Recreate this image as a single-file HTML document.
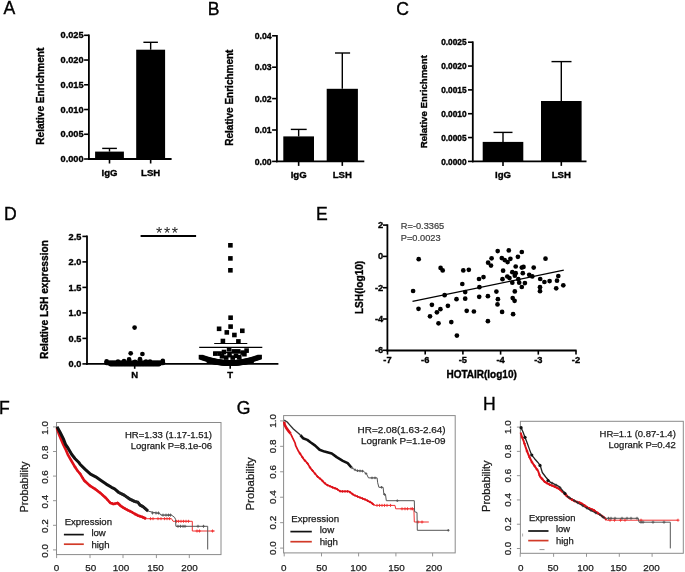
<!DOCTYPE html>
<html><head><meta charset="utf-8"><title>Figure</title>
<style>
html,body{margin:0;padding:0;background:#fff;}
body{width:685px;height:572px;overflow:hidden;}
svg{display:block;filter:blur(0.35px);}
text{font-family:"Liberation Sans", sans-serif;}
</style></head>
<body>
<svg width="685" height="572" viewBox="0 0 685 572" font-family="Liberation Sans, sans-serif">
<rect width="685" height="572" fill="#fff"/>
<text x="3.40" y="14.30" font-size="17.6" text-anchor="start" fill="#000" stroke="#000" stroke-width="0.35">A</text>
<text x="207.80" y="15.00" font-size="17.6" text-anchor="start" fill="#000" stroke="#000" stroke-width="0.35">B</text>
<text x="396.20" y="15.00" font-size="17.6" text-anchor="start" fill="#000" stroke="#000" stroke-width="0.35">C</text>
<text x="4.00" y="219.70" font-size="17.6" text-anchor="start" fill="#000" stroke="#000" stroke-width="0.35">D</text>
<text x="316.00" y="219.60" font-size="17.6" text-anchor="start" fill="#000" stroke="#000" stroke-width="0.35">E</text>
<text x="-1.00" y="413.70" font-size="17.6" text-anchor="start" fill="#000" stroke="#000" stroke-width="0.35">F</text>
<text x="236.80" y="414.00" font-size="17.6" text-anchor="start" fill="#000" stroke="#000" stroke-width="0.35">G</text>
<text x="483.00" y="409.70" font-size="17.6" text-anchor="start" fill="#000" stroke="#000" stroke-width="0.35">H</text>
<line x1="88.90" y1="34.50" x2="88.90" y2="159.90" stroke="#000" stroke-width="1.8"/>
<line x1="88.00" y1="159.00" x2="171.60" y2="159.00" stroke="#000" stroke-width="1.8"/>
<line x1="84.10" y1="159.00" x2="88.90" y2="159.00" stroke="#000" stroke-width="1.6"/>
<text x="83.60" y="162.10" font-size="9.2" font-weight="bold" stroke="#000" stroke-width="0.35" text-anchor="end" fill="#000">0.000</text>
<line x1="84.10" y1="134.26" x2="88.90" y2="134.26" stroke="#000" stroke-width="1.6"/>
<text x="83.60" y="137.36" font-size="9.2" font-weight="bold" stroke="#000" stroke-width="0.35" text-anchor="end" fill="#000">0.005</text>
<line x1="84.10" y1="109.52" x2="88.90" y2="109.52" stroke="#000" stroke-width="1.6"/>
<text x="83.60" y="112.62" font-size="9.2" font-weight="bold" stroke="#000" stroke-width="0.35" text-anchor="end" fill="#000">0.010</text>
<line x1="84.10" y1="84.78" x2="88.90" y2="84.78" stroke="#000" stroke-width="1.6"/>
<text x="83.60" y="87.88" font-size="9.2" font-weight="bold" stroke="#000" stroke-width="0.35" text-anchor="end" fill="#000">0.015</text>
<line x1="84.10" y1="60.04" x2="88.90" y2="60.04" stroke="#000" stroke-width="1.6"/>
<text x="83.60" y="63.14" font-size="9.2" font-weight="bold" stroke="#000" stroke-width="0.35" text-anchor="end" fill="#000">0.020</text>
<line x1="84.10" y1="35.30" x2="88.90" y2="35.30" stroke="#000" stroke-width="1.6"/>
<text x="83.60" y="38.40" font-size="9.2" font-weight="bold" stroke="#000" stroke-width="0.35" text-anchor="end" fill="#000">0.025</text>
<rect x="95.10" y="151.60" width="28.80" height="7.40" fill="#000"/>
<line x1="109.50" y1="148.40" x2="109.50" y2="151.60" stroke="#000" stroke-width="1.4"/>
<line x1="102.20" y1="148.40" x2="116.90" y2="148.40" stroke="#000" stroke-width="1.4"/>
<line x1="109.50" y1="159.00" x2="109.50" y2="163.50" stroke="#000" stroke-width="1.6"/>
<text x="109.50" y="175.60" font-size="9.6" font-weight="bold" stroke="#000" stroke-width="0.35" text-anchor="middle" fill="#000">IgG</text>
<rect x="136.20" y="49.70" width="28.90" height="109.30" fill="#000"/>
<line x1="150.65" y1="42.30" x2="150.65" y2="49.70" stroke="#000" stroke-width="1.4"/>
<line x1="143.40" y1="42.30" x2="157.90" y2="42.30" stroke="#000" stroke-width="1.4"/>
<line x1="150.65" y1="159.00" x2="150.65" y2="163.50" stroke="#000" stroke-width="1.6"/>
<text x="150.65" y="175.60" font-size="9.6" font-weight="bold" stroke="#000" stroke-width="0.35" text-anchor="middle" fill="#000">LSH</text>
<text x="44.40" y="96.20" font-size="10.1" font-weight="bold" stroke="#000" stroke-width="0.35" text-anchor="middle" fill="#000" transform="rotate(-90 44.40 96.20)">Relative Enrichment</text>
<line x1="276.90" y1="35.00" x2="276.90" y2="162.30" stroke="#000" stroke-width="1.8"/>
<line x1="276.00" y1="161.40" x2="364.30" y2="161.40" stroke="#000" stroke-width="1.8"/>
<line x1="272.10" y1="161.40" x2="276.90" y2="161.40" stroke="#000" stroke-width="1.6"/>
<text x="271.60" y="164.50" font-size="8.7" font-weight="bold" stroke="#000" stroke-width="0.35" text-anchor="end" fill="#000">0.00</text>
<line x1="272.10" y1="130.00" x2="276.90" y2="130.00" stroke="#000" stroke-width="1.6"/>
<text x="271.60" y="133.10" font-size="8.7" font-weight="bold" stroke="#000" stroke-width="0.35" text-anchor="end" fill="#000">0.01</text>
<line x1="272.10" y1="98.60" x2="276.90" y2="98.60" stroke="#000" stroke-width="1.6"/>
<text x="271.60" y="101.70" font-size="8.7" font-weight="bold" stroke="#000" stroke-width="0.35" text-anchor="end" fill="#000">0.02</text>
<line x1="272.10" y1="67.20" x2="276.90" y2="67.20" stroke="#000" stroke-width="1.6"/>
<text x="271.60" y="70.30" font-size="8.7" font-weight="bold" stroke="#000" stroke-width="0.35" text-anchor="end" fill="#000">0.03</text>
<line x1="272.10" y1="35.80" x2="276.90" y2="35.80" stroke="#000" stroke-width="1.6"/>
<text x="271.60" y="38.90" font-size="8.7" font-weight="bold" stroke="#000" stroke-width="0.35" text-anchor="end" fill="#000">0.04</text>
<rect x="283.30" y="136.40" width="30.70" height="25.00" fill="#000"/>
<line x1="298.65" y1="129.40" x2="298.65" y2="136.40" stroke="#000" stroke-width="1.4"/>
<line x1="290.80" y1="129.40" x2="306.70" y2="129.40" stroke="#000" stroke-width="1.4"/>
<line x1="298.65" y1="161.40" x2="298.65" y2="165.90" stroke="#000" stroke-width="1.6"/>
<text x="298.65" y="178.00" font-size="9.6" font-weight="bold" stroke="#000" stroke-width="0.35" text-anchor="middle" fill="#000">IgG</text>
<rect x="326.70" y="88.80" width="31.20" height="72.60" fill="#000"/>
<line x1="342.30" y1="53.00" x2="342.30" y2="88.80" stroke="#000" stroke-width="1.4"/>
<line x1="335.00" y1="53.00" x2="350.10" y2="53.00" stroke="#000" stroke-width="1.4"/>
<line x1="342.30" y1="161.40" x2="342.30" y2="165.90" stroke="#000" stroke-width="1.6"/>
<text x="342.30" y="178.00" font-size="9.6" font-weight="bold" stroke="#000" stroke-width="0.35" text-anchor="middle" fill="#000">LSH</text>
<text x="233.20" y="97.60" font-size="10" font-weight="bold" stroke="#000" stroke-width="0.35" text-anchor="middle" fill="#000" transform="rotate(-90 233.20 97.60)">Relative Enrichment</text>
<line x1="472.80" y1="41.40" x2="472.80" y2="162.30" stroke="#000" stroke-width="1.8"/>
<line x1="471.90" y1="161.40" x2="586.50" y2="161.40" stroke="#000" stroke-width="1.8"/>
<line x1="468.00" y1="161.40" x2="472.80" y2="161.40" stroke="#000" stroke-width="1.6"/>
<text x="466.60" y="164.50" font-size="8.3" font-weight="bold" stroke="#000" stroke-width="0.35" text-anchor="end" fill="#000">0.0000</text>
<line x1="468.00" y1="137.56" x2="472.80" y2="137.56" stroke="#000" stroke-width="1.6"/>
<text x="466.60" y="140.66" font-size="8.3" font-weight="bold" stroke="#000" stroke-width="0.35" text-anchor="end" fill="#000">0.0005</text>
<line x1="468.00" y1="113.72" x2="472.80" y2="113.72" stroke="#000" stroke-width="1.6"/>
<text x="466.60" y="116.82" font-size="8.3" font-weight="bold" stroke="#000" stroke-width="0.35" text-anchor="end" fill="#000">0.0010</text>
<line x1="468.00" y1="89.88" x2="472.80" y2="89.88" stroke="#000" stroke-width="1.6"/>
<text x="466.60" y="92.98" font-size="8.3" font-weight="bold" stroke="#000" stroke-width="0.35" text-anchor="end" fill="#000">0.0015</text>
<line x1="468.00" y1="66.04" x2="472.80" y2="66.04" stroke="#000" stroke-width="1.6"/>
<text x="466.60" y="69.14" font-size="8.3" font-weight="bold" stroke="#000" stroke-width="0.35" text-anchor="end" fill="#000">0.0020</text>
<line x1="468.00" y1="42.20" x2="472.80" y2="42.20" stroke="#000" stroke-width="1.6"/>
<text x="466.60" y="45.30" font-size="8.3" font-weight="bold" stroke="#000" stroke-width="0.35" text-anchor="end" fill="#000">0.0025</text>
<rect x="482.70" y="141.90" width="40.60" height="19.50" fill="#000"/>
<line x1="503.00" y1="132.40" x2="503.00" y2="141.90" stroke="#000" stroke-width="1.4"/>
<line x1="493.50" y1="132.40" x2="512.50" y2="132.40" stroke="#000" stroke-width="1.4"/>
<line x1="503.00" y1="161.40" x2="503.00" y2="165.90" stroke="#000" stroke-width="1.6"/>
<text x="503.00" y="177.60" font-size="9.6" font-weight="bold" stroke="#000" stroke-width="0.35" text-anchor="middle" fill="#000">IgG</text>
<rect x="541.00" y="101.00" width="40.60" height="60.40" fill="#000"/>
<line x1="561.30" y1="61.60" x2="561.30" y2="101.00" stroke="#000" stroke-width="1.4"/>
<line x1="551.50" y1="61.60" x2="571.50" y2="61.60" stroke="#000" stroke-width="1.4"/>
<line x1="561.30" y1="161.40" x2="561.30" y2="165.90" stroke="#000" stroke-width="1.6"/>
<text x="561.30" y="177.60" font-size="9.6" font-weight="bold" stroke="#000" stroke-width="0.35" text-anchor="middle" fill="#000">LSH</text>
<text x="427.40" y="101.70" font-size="9.7" font-weight="bold" stroke="#000" stroke-width="0.35" text-anchor="middle" fill="#000" transform="rotate(-90 427.40 101.70)">Relative Enrichment</text>
<line x1="87.00" y1="235.60" x2="87.00" y2="364.80" stroke="#000" stroke-width="1.8"/>
<line x1="86.10" y1="363.90" x2="278.40" y2="363.90" stroke="#000" stroke-width="1.8"/>
<line x1="82.40" y1="363.90" x2="87.00" y2="363.90" stroke="#000" stroke-width="1.6"/>
<text x="81.40" y="367.10" font-size="9.2" font-weight="bold" stroke="#000" stroke-width="0.35" text-anchor="end" fill="#000">0.0</text>
<line x1="82.40" y1="338.40" x2="87.00" y2="338.40" stroke="#000" stroke-width="1.6"/>
<text x="81.40" y="341.60" font-size="9.2" font-weight="bold" stroke="#000" stroke-width="0.35" text-anchor="end" fill="#000">0.5</text>
<line x1="82.40" y1="312.90" x2="87.00" y2="312.90" stroke="#000" stroke-width="1.6"/>
<text x="81.40" y="316.10" font-size="9.2" font-weight="bold" stroke="#000" stroke-width="0.35" text-anchor="end" fill="#000">1.0</text>
<line x1="82.40" y1="287.40" x2="87.00" y2="287.40" stroke="#000" stroke-width="1.6"/>
<text x="81.40" y="290.60" font-size="9.2" font-weight="bold" stroke="#000" stroke-width="0.35" text-anchor="end" fill="#000">1.5</text>
<line x1="82.40" y1="261.90" x2="87.00" y2="261.90" stroke="#000" stroke-width="1.6"/>
<text x="81.40" y="265.10" font-size="9.2" font-weight="bold" stroke="#000" stroke-width="0.35" text-anchor="end" fill="#000">2.0</text>
<line x1="82.40" y1="236.40" x2="87.00" y2="236.40" stroke="#000" stroke-width="1.6"/>
<text x="81.40" y="239.60" font-size="9.2" font-weight="bold" stroke="#000" stroke-width="0.35" text-anchor="end" fill="#000">2.5</text>
<line x1="134.70" y1="363.90" x2="134.70" y2="368.80" stroke="#000" stroke-width="1.6"/>
<line x1="230.20" y1="363.90" x2="230.20" y2="368.80" stroke="#000" stroke-width="1.6"/>
<text x="134.70" y="377.70" font-size="9.5" font-weight="bold" stroke="#000" stroke-width="0.35" text-anchor="middle" fill="#000">N</text>
<text x="230.20" y="377.70" font-size="9.5" font-weight="bold" stroke="#000" stroke-width="0.35" text-anchor="middle" fill="#000">T</text>
<text x="47.90" y="299.50" font-size="10.2" font-weight="bold" stroke="#000" stroke-width="0.35" text-anchor="middle" fill="#000" transform="rotate(-90 47.90 299.50)">Relative LSH expression</text>
<line x1="140.60" y1="236.00" x2="196.10" y2="236.00" stroke="#000" stroke-width="1.8"/>
<text x="159.00" y="238.90" font-size="16" text-anchor="middle" fill="#222">*</text>
<text x="167.10" y="238.90" font-size="16" text-anchor="middle" fill="#222">*</text>
<text x="174.90" y="238.90" font-size="16" text-anchor="middle" fill="#222">*</text>
<circle cx="134.60" cy="327.60" r="2.35" fill="#000"/>
<circle cx="130.70" cy="353.30" r="2.35" fill="#000"/>
<circle cx="142.40" cy="354.00" r="2.35" fill="#000"/>
<circle cx="106.50" cy="362.90" r="2.35" fill="#000"/>
<circle cx="107.46" cy="362.90" r="2.35" fill="#000"/>
<circle cx="108.42" cy="362.90" r="2.35" fill="#000"/>
<circle cx="109.37" cy="362.90" r="2.35" fill="#000"/>
<circle cx="110.33" cy="362.90" r="2.35" fill="#000"/>
<circle cx="110.33" cy="364.10" r="2.35" fill="#000"/>
<circle cx="111.29" cy="362.90" r="2.35" fill="#000"/>
<circle cx="111.29" cy="364.10" r="2.35" fill="#000"/>
<circle cx="112.25" cy="362.90" r="2.35" fill="#000"/>
<circle cx="112.25" cy="364.10" r="2.35" fill="#000"/>
<circle cx="113.20" cy="362.90" r="2.35" fill="#000"/>
<circle cx="113.20" cy="364.10" r="2.35" fill="#000"/>
<circle cx="114.16" cy="362.90" r="2.35" fill="#000"/>
<circle cx="114.16" cy="364.10" r="2.35" fill="#000"/>
<circle cx="115.12" cy="362.90" r="2.35" fill="#000"/>
<circle cx="115.12" cy="364.10" r="2.35" fill="#000"/>
<circle cx="116.08" cy="362.90" r="2.35" fill="#000"/>
<circle cx="116.08" cy="364.10" r="2.35" fill="#000"/>
<circle cx="117.03" cy="362.90" r="2.35" fill="#000"/>
<circle cx="117.03" cy="364.10" r="2.35" fill="#000"/>
<circle cx="117.99" cy="362.90" r="2.35" fill="#000"/>
<circle cx="117.99" cy="364.10" r="2.35" fill="#000"/>
<circle cx="118.95" cy="362.90" r="2.35" fill="#000"/>
<circle cx="118.95" cy="364.10" r="2.35" fill="#000"/>
<circle cx="119.91" cy="362.90" r="2.35" fill="#000"/>
<circle cx="119.91" cy="364.10" r="2.35" fill="#000"/>
<circle cx="120.86" cy="362.90" r="2.35" fill="#000"/>
<circle cx="120.86" cy="364.10" r="2.35" fill="#000"/>
<circle cx="121.82" cy="362.90" r="2.35" fill="#000"/>
<circle cx="121.82" cy="364.10" r="2.35" fill="#000"/>
<circle cx="122.78" cy="362.90" r="2.35" fill="#000"/>
<circle cx="122.78" cy="364.10" r="2.35" fill="#000"/>
<circle cx="123.74" cy="362.90" r="2.35" fill="#000"/>
<circle cx="123.74" cy="364.10" r="2.35" fill="#000"/>
<circle cx="124.69" cy="362.90" r="2.35" fill="#000"/>
<circle cx="124.69" cy="364.10" r="2.35" fill="#000"/>
<circle cx="125.65" cy="362.90" r="2.35" fill="#000"/>
<circle cx="125.65" cy="364.10" r="2.35" fill="#000"/>
<circle cx="126.61" cy="362.90" r="2.35" fill="#000"/>
<circle cx="126.61" cy="364.10" r="2.35" fill="#000"/>
<circle cx="127.57" cy="362.90" r="2.35" fill="#000"/>
<circle cx="127.57" cy="364.10" r="2.35" fill="#000"/>
<circle cx="128.53" cy="362.90" r="2.35" fill="#000"/>
<circle cx="128.53" cy="364.10" r="2.35" fill="#000"/>
<circle cx="129.48" cy="362.90" r="2.35" fill="#000"/>
<circle cx="129.48" cy="364.10" r="2.35" fill="#000"/>
<circle cx="130.44" cy="362.90" r="2.35" fill="#000"/>
<circle cx="130.44" cy="364.10" r="2.35" fill="#000"/>
<circle cx="131.40" cy="362.90" r="2.35" fill="#000"/>
<circle cx="131.40" cy="364.10" r="2.35" fill="#000"/>
<circle cx="132.36" cy="362.90" r="2.35" fill="#000"/>
<circle cx="132.36" cy="364.10" r="2.35" fill="#000"/>
<circle cx="133.31" cy="362.90" r="2.35" fill="#000"/>
<circle cx="133.31" cy="364.10" r="2.35" fill="#000"/>
<circle cx="134.27" cy="362.90" r="2.35" fill="#000"/>
<circle cx="134.27" cy="364.10" r="2.35" fill="#000"/>
<circle cx="135.23" cy="362.90" r="2.35" fill="#000"/>
<circle cx="135.23" cy="364.10" r="2.35" fill="#000"/>
<circle cx="136.19" cy="362.90" r="2.35" fill="#000"/>
<circle cx="136.19" cy="364.10" r="2.35" fill="#000"/>
<circle cx="137.14" cy="362.90" r="2.35" fill="#000"/>
<circle cx="137.14" cy="364.10" r="2.35" fill="#000"/>
<circle cx="138.10" cy="362.90" r="2.35" fill="#000"/>
<circle cx="138.10" cy="364.10" r="2.35" fill="#000"/>
<circle cx="139.06" cy="362.90" r="2.35" fill="#000"/>
<circle cx="139.06" cy="364.10" r="2.35" fill="#000"/>
<circle cx="140.02" cy="362.90" r="2.35" fill="#000"/>
<circle cx="140.02" cy="364.10" r="2.35" fill="#000"/>
<circle cx="140.97" cy="362.90" r="2.35" fill="#000"/>
<circle cx="140.97" cy="364.10" r="2.35" fill="#000"/>
<circle cx="141.93" cy="362.90" r="2.35" fill="#000"/>
<circle cx="141.93" cy="364.10" r="2.35" fill="#000"/>
<circle cx="142.89" cy="362.90" r="2.35" fill="#000"/>
<circle cx="142.89" cy="364.10" r="2.35" fill="#000"/>
<circle cx="143.85" cy="362.90" r="2.35" fill="#000"/>
<circle cx="143.85" cy="364.10" r="2.35" fill="#000"/>
<circle cx="144.81" cy="362.90" r="2.35" fill="#000"/>
<circle cx="144.81" cy="364.10" r="2.35" fill="#000"/>
<circle cx="145.76" cy="362.90" r="2.35" fill="#000"/>
<circle cx="145.76" cy="364.10" r="2.35" fill="#000"/>
<circle cx="146.72" cy="362.90" r="2.35" fill="#000"/>
<circle cx="146.72" cy="364.10" r="2.35" fill="#000"/>
<circle cx="147.68" cy="362.90" r="2.35" fill="#000"/>
<circle cx="147.68" cy="364.10" r="2.35" fill="#000"/>
<circle cx="148.64" cy="362.90" r="2.35" fill="#000"/>
<circle cx="148.64" cy="364.10" r="2.35" fill="#000"/>
<circle cx="149.59" cy="362.90" r="2.35" fill="#000"/>
<circle cx="149.59" cy="364.10" r="2.35" fill="#000"/>
<circle cx="150.55" cy="362.90" r="2.35" fill="#000"/>
<circle cx="150.55" cy="364.10" r="2.35" fill="#000"/>
<circle cx="151.51" cy="362.90" r="2.35" fill="#000"/>
<circle cx="151.51" cy="364.10" r="2.35" fill="#000"/>
<circle cx="152.47" cy="362.90" r="2.35" fill="#000"/>
<circle cx="152.47" cy="364.10" r="2.35" fill="#000"/>
<circle cx="153.42" cy="362.90" r="2.35" fill="#000"/>
<circle cx="153.42" cy="364.10" r="2.35" fill="#000"/>
<circle cx="154.38" cy="362.90" r="2.35" fill="#000"/>
<circle cx="154.38" cy="364.10" r="2.35" fill="#000"/>
<circle cx="155.34" cy="362.90" r="2.35" fill="#000"/>
<circle cx="155.34" cy="364.10" r="2.35" fill="#000"/>
<circle cx="156.30" cy="362.90" r="2.35" fill="#000"/>
<circle cx="156.30" cy="364.10" r="2.35" fill="#000"/>
<circle cx="157.25" cy="362.90" r="2.35" fill="#000"/>
<circle cx="157.25" cy="364.10" r="2.35" fill="#000"/>
<circle cx="158.21" cy="362.90" r="2.35" fill="#000"/>
<circle cx="158.21" cy="364.10" r="2.35" fill="#000"/>
<circle cx="159.17" cy="362.90" r="2.35" fill="#000"/>
<circle cx="159.17" cy="364.10" r="2.35" fill="#000"/>
<circle cx="160.13" cy="362.90" r="2.35" fill="#000"/>
<circle cx="161.08" cy="362.90" r="2.35" fill="#000"/>
<circle cx="162.04" cy="362.90" r="2.35" fill="#000"/>
<circle cx="163.00" cy="362.90" r="2.35" fill="#000"/>
<circle cx="106.60" cy="361.40" r="2.35" fill="#000"/>
<circle cx="129.10" cy="359.40" r="2.35" fill="#000"/>
<circle cx="140.00" cy="359.20" r="2.35" fill="#000"/>
<circle cx="162.80" cy="360.90" r="2.35" fill="#000"/>
<circle cx="118.00" cy="361.60" r="2.35" fill="#000"/>
<circle cx="150.00" cy="361.60" r="2.35" fill="#000"/>
<circle cx="124.00" cy="361.20" r="2.35" fill="#000"/>
<circle cx="146.00" cy="361.50" r="2.35" fill="#000"/>
<circle cx="135.00" cy="361.80" r="2.35" fill="#000"/>
<rect x="228.10" y="243.00" width="4.60" height="4.60" fill="#000"/>
<rect x="228.10" y="256.10" width="4.60" height="4.60" fill="#000"/>
<rect x="228.10" y="268.00" width="4.60" height="4.60" fill="#000"/>
<rect x="228.30" y="315.40" width="4.60" height="4.60" fill="#000"/>
<rect x="216.80" y="326.50" width="4.60" height="4.60" fill="#000"/>
<rect x="228.30" y="324.30" width="4.60" height="4.60" fill="#000"/>
<rect x="240.00" y="328.50" width="4.60" height="4.60" fill="#000"/>
<rect x="224.50" y="330.10" width="4.60" height="4.60" fill="#000"/>
<rect x="232.10" y="332.70" width="4.60" height="4.60" fill="#000"/>
<rect x="220.60" y="338.70" width="4.60" height="4.60" fill="#000"/>
<rect x="236.10" y="339.10" width="4.60" height="4.60" fill="#000"/>
<rect x="226.80" y="347.00" width="4.60" height="4.60" fill="#000"/>
<rect x="213.00" y="351.30" width="4.60" height="4.60" fill="#000"/>
<rect x="217.30" y="351.30" width="4.60" height="4.60" fill="#000"/>
<rect x="221.70" y="349.70" width="4.60" height="4.60" fill="#000"/>
<rect x="231.50" y="349.10" width="4.60" height="4.60" fill="#000"/>
<rect x="235.90" y="349.10" width="4.60" height="4.60" fill="#000"/>
<rect x="240.30" y="350.30" width="4.60" height="4.60" fill="#000"/>
<rect x="244.30" y="348.30" width="4.60" height="4.60" fill="#000"/>
<rect x="242.10" y="351.90" width="4.60" height="4.60" fill="#000"/>
<rect x="223.90" y="355.30" width="4.60" height="4.60" fill="#000"/>
<rect x="230.40" y="355.30" width="4.60" height="4.60" fill="#000"/>
<rect x="237.00" y="354.90" width="4.60" height="4.60" fill="#000"/>
<rect x="219.70" y="354.00" width="4.60" height="4.60" fill="#000"/>
<rect x="233.70" y="353.50" width="4.60" height="4.60" fill="#000"/>
<rect x="227.20" y="352.90" width="4.60" height="4.60" fill="#000"/>
<rect x="198.70" y="354.83" width="4.60" height="4.60" fill="#000"/>
<rect x="199.69" y="355.19" width="4.60" height="4.60" fill="#000"/>
<rect x="200.69" y="355.53" width="4.60" height="4.60" fill="#000"/>
<rect x="201.68" y="355.87" width="4.60" height="4.60" fill="#000"/>
<rect x="202.67" y="356.19" width="4.60" height="4.60" fill="#000"/>
<rect x="203.67" y="356.50" width="4.60" height="4.60" fill="#000"/>
<rect x="204.66" y="356.80" width="4.60" height="4.60" fill="#000"/>
<rect x="205.65" y="357.08" width="4.60" height="4.60" fill="#000"/>
<rect x="206.65" y="357.35" width="4.60" height="4.60" fill="#000"/>
<rect x="206.65" y="358.35" width="4.60" height="4.60" fill="#000"/>
<rect x="207.64" y="357.61" width="4.60" height="4.60" fill="#000"/>
<rect x="207.64" y="358.61" width="4.60" height="4.60" fill="#000"/>
<rect x="208.63" y="357.86" width="4.60" height="4.60" fill="#000"/>
<rect x="208.63" y="358.86" width="4.60" height="4.60" fill="#000"/>
<rect x="209.63" y="358.10" width="4.60" height="4.60" fill="#000"/>
<rect x="209.63" y="359.10" width="4.60" height="4.60" fill="#000"/>
<rect x="210.62" y="358.32" width="4.60" height="4.60" fill="#000"/>
<rect x="210.62" y="359.32" width="4.60" height="4.60" fill="#000"/>
<rect x="211.61" y="358.53" width="4.60" height="4.60" fill="#000"/>
<rect x="211.61" y="359.53" width="4.60" height="4.60" fill="#000"/>
<rect x="212.61" y="358.73" width="4.60" height="4.60" fill="#000"/>
<rect x="212.61" y="359.73" width="4.60" height="4.60" fill="#000"/>
<rect x="213.60" y="358.91" width="4.60" height="4.60" fill="#000"/>
<rect x="213.60" y="359.91" width="4.60" height="4.60" fill="#000"/>
<rect x="214.59" y="359.08" width="4.60" height="4.60" fill="#000"/>
<rect x="214.59" y="360.08" width="4.60" height="4.60" fill="#000"/>
<rect x="215.58" y="359.24" width="4.60" height="4.60" fill="#000"/>
<rect x="215.58" y="360.24" width="4.60" height="4.60" fill="#000"/>
<rect x="216.58" y="359.39" width="4.60" height="4.60" fill="#000"/>
<rect x="216.58" y="360.39" width="4.60" height="4.60" fill="#000"/>
<rect x="217.57" y="359.53" width="4.60" height="4.60" fill="#000"/>
<rect x="217.57" y="360.53" width="4.60" height="4.60" fill="#000"/>
<rect x="218.56" y="359.65" width="4.60" height="4.60" fill="#000"/>
<rect x="218.56" y="360.65" width="4.60" height="4.60" fill="#000"/>
<rect x="219.56" y="359.76" width="4.60" height="4.60" fill="#000"/>
<rect x="219.56" y="360.76" width="4.60" height="4.60" fill="#000"/>
<rect x="220.55" y="359.86" width="4.60" height="4.60" fill="#000"/>
<rect x="220.55" y="360.86" width="4.60" height="4.60" fill="#000"/>
<rect x="221.54" y="359.95" width="4.60" height="4.60" fill="#000"/>
<rect x="221.54" y="360.95" width="4.60" height="4.60" fill="#000"/>
<rect x="222.54" y="360.02" width="4.60" height="4.60" fill="#000"/>
<rect x="222.54" y="361.02" width="4.60" height="4.60" fill="#000"/>
<rect x="223.53" y="360.08" width="4.60" height="4.60" fill="#000"/>
<rect x="223.53" y="361.08" width="4.60" height="4.60" fill="#000"/>
<rect x="224.52" y="360.13" width="4.60" height="4.60" fill="#000"/>
<rect x="224.52" y="361.13" width="4.60" height="4.60" fill="#000"/>
<rect x="225.52" y="360.16" width="4.60" height="4.60" fill="#000"/>
<rect x="225.52" y="361.16" width="4.60" height="4.60" fill="#000"/>
<rect x="226.51" y="360.19" width="4.60" height="4.60" fill="#000"/>
<rect x="226.51" y="361.19" width="4.60" height="4.60" fill="#000"/>
<rect x="227.50" y="360.20" width="4.60" height="4.60" fill="#000"/>
<rect x="227.50" y="361.20" width="4.60" height="4.60" fill="#000"/>
<rect x="228.50" y="360.20" width="4.60" height="4.60" fill="#000"/>
<rect x="228.50" y="361.20" width="4.60" height="4.60" fill="#000"/>
<rect x="229.49" y="360.18" width="4.60" height="4.60" fill="#000"/>
<rect x="229.49" y="361.18" width="4.60" height="4.60" fill="#000"/>
<rect x="230.48" y="360.16" width="4.60" height="4.60" fill="#000"/>
<rect x="230.48" y="361.16" width="4.60" height="4.60" fill="#000"/>
<rect x="231.48" y="360.12" width="4.60" height="4.60" fill="#000"/>
<rect x="231.48" y="361.12" width="4.60" height="4.60" fill="#000"/>
<rect x="232.47" y="360.07" width="4.60" height="4.60" fill="#000"/>
<rect x="232.47" y="361.07" width="4.60" height="4.60" fill="#000"/>
<rect x="233.46" y="360.00" width="4.60" height="4.60" fill="#000"/>
<rect x="233.46" y="361.00" width="4.60" height="4.60" fill="#000"/>
<rect x="234.46" y="359.93" width="4.60" height="4.60" fill="#000"/>
<rect x="234.46" y="360.93" width="4.60" height="4.60" fill="#000"/>
<rect x="235.45" y="359.84" width="4.60" height="4.60" fill="#000"/>
<rect x="235.45" y="360.84" width="4.60" height="4.60" fill="#000"/>
<rect x="236.44" y="359.74" width="4.60" height="4.60" fill="#000"/>
<rect x="236.44" y="360.74" width="4.60" height="4.60" fill="#000"/>
<rect x="237.44" y="359.63" width="4.60" height="4.60" fill="#000"/>
<rect x="237.44" y="360.63" width="4.60" height="4.60" fill="#000"/>
<rect x="238.43" y="359.50" width="4.60" height="4.60" fill="#000"/>
<rect x="238.43" y="360.50" width="4.60" height="4.60" fill="#000"/>
<rect x="239.42" y="359.36" width="4.60" height="4.60" fill="#000"/>
<rect x="239.42" y="360.36" width="4.60" height="4.60" fill="#000"/>
<rect x="240.42" y="359.21" width="4.60" height="4.60" fill="#000"/>
<rect x="240.42" y="360.21" width="4.60" height="4.60" fill="#000"/>
<rect x="241.41" y="359.05" width="4.60" height="4.60" fill="#000"/>
<rect x="241.41" y="360.05" width="4.60" height="4.60" fill="#000"/>
<rect x="242.40" y="358.87" width="4.60" height="4.60" fill="#000"/>
<rect x="242.40" y="359.87" width="4.60" height="4.60" fill="#000"/>
<rect x="243.39" y="358.69" width="4.60" height="4.60" fill="#000"/>
<rect x="243.39" y="359.69" width="4.60" height="4.60" fill="#000"/>
<rect x="244.39" y="358.49" width="4.60" height="4.60" fill="#000"/>
<rect x="244.39" y="359.49" width="4.60" height="4.60" fill="#000"/>
<rect x="245.38" y="358.27" width="4.60" height="4.60" fill="#000"/>
<rect x="245.38" y="359.27" width="4.60" height="4.60" fill="#000"/>
<rect x="246.37" y="358.05" width="4.60" height="4.60" fill="#000"/>
<rect x="246.37" y="359.05" width="4.60" height="4.60" fill="#000"/>
<rect x="247.37" y="357.81" width="4.60" height="4.60" fill="#000"/>
<rect x="247.37" y="358.81" width="4.60" height="4.60" fill="#000"/>
<rect x="248.36" y="357.56" width="4.60" height="4.60" fill="#000"/>
<rect x="248.36" y="358.56" width="4.60" height="4.60" fill="#000"/>
<rect x="249.35" y="357.30" width="4.60" height="4.60" fill="#000"/>
<rect x="249.35" y="358.30" width="4.60" height="4.60" fill="#000"/>
<rect x="250.35" y="357.02" width="4.60" height="4.60" fill="#000"/>
<rect x="251.34" y="356.74" width="4.60" height="4.60" fill="#000"/>
<rect x="252.33" y="356.44" width="4.60" height="4.60" fill="#000"/>
<rect x="253.33" y="356.13" width="4.60" height="4.60" fill="#000"/>
<rect x="254.32" y="355.80" width="4.60" height="4.60" fill="#000"/>
<rect x="255.31" y="355.46" width="4.60" height="4.60" fill="#000"/>
<rect x="256.31" y="355.11" width="4.60" height="4.60" fill="#000"/>
<rect x="257.30" y="354.75" width="4.60" height="4.60" fill="#000"/>
<line x1="199.20" y1="347.40" x2="262.30" y2="347.40" stroke="#000" stroke-width="1.3"/>
<line x1="214.20" y1="343.50" x2="247.30" y2="343.50" stroke="#000" stroke-width="1.2"/>
<line x1="214.20" y1="352.40" x2="247.30" y2="352.40" stroke="#000" stroke-width="1.2"/>
<line x1="387.40" y1="224.30" x2="387.40" y2="351.40" stroke="#000" stroke-width="1.8"/>
<line x1="386.50" y1="350.50" x2="576.60" y2="350.50" stroke="#000" stroke-width="1.8"/>
<line x1="383.00" y1="225.10" x2="387.40" y2="225.10" stroke="#000" stroke-width="1.6"/>
<text x="383.20" y="228.10" font-size="9.3" font-weight="bold" stroke="#000" stroke-width="0.35" text-anchor="end" fill="#000">2</text>
<line x1="383.00" y1="256.40" x2="387.40" y2="256.40" stroke="#000" stroke-width="1.6"/>
<text x="383.20" y="259.40" font-size="9.3" font-weight="bold" stroke="#000" stroke-width="0.35" text-anchor="end" fill="#000">0</text>
<line x1="383.00" y1="287.70" x2="387.40" y2="287.70" stroke="#000" stroke-width="1.6"/>
<text x="383.20" y="290.70" font-size="9.3" font-weight="bold" stroke="#000" stroke-width="0.35" text-anchor="end" fill="#000">-2</text>
<line x1="383.00" y1="319.00" x2="387.40" y2="319.00" stroke="#000" stroke-width="1.6"/>
<text x="383.20" y="322.00" font-size="9.3" font-weight="bold" stroke="#000" stroke-width="0.35" text-anchor="end" fill="#000">-4</text>
<line x1="383.00" y1="350.30" x2="387.40" y2="350.30" stroke="#000" stroke-width="1.6"/>
<text x="383.20" y="353.30" font-size="9.3" font-weight="bold" stroke="#000" stroke-width="0.35" text-anchor="end" fill="#000">-6</text>
<line x1="387.50" y1="350.50" x2="387.50" y2="354.60" stroke="#000" stroke-width="1.6"/>
<text x="387.50" y="362.90" font-size="9.3" font-weight="bold" stroke="#000" stroke-width="0.35" text-anchor="middle" fill="#000">-7</text>
<line x1="425.20" y1="350.50" x2="425.20" y2="354.60" stroke="#000" stroke-width="1.6"/>
<text x="425.20" y="362.90" font-size="9.3" font-weight="bold" stroke="#000" stroke-width="0.35" text-anchor="middle" fill="#000">-6</text>
<line x1="462.90" y1="350.50" x2="462.90" y2="354.60" stroke="#000" stroke-width="1.6"/>
<text x="462.90" y="362.90" font-size="9.3" font-weight="bold" stroke="#000" stroke-width="0.35" text-anchor="middle" fill="#000">-5</text>
<line x1="500.60" y1="350.50" x2="500.60" y2="354.60" stroke="#000" stroke-width="1.6"/>
<text x="500.60" y="362.90" font-size="9.3" font-weight="bold" stroke="#000" stroke-width="0.35" text-anchor="middle" fill="#000">-4</text>
<line x1="538.30" y1="350.50" x2="538.30" y2="354.60" stroke="#000" stroke-width="1.6"/>
<text x="538.30" y="362.90" font-size="9.3" font-weight="bold" stroke="#000" stroke-width="0.35" text-anchor="middle" fill="#000">-3</text>
<line x1="576.00" y1="350.50" x2="576.00" y2="354.60" stroke="#000" stroke-width="1.6"/>
<text x="576.00" y="362.90" font-size="9.3" font-weight="bold" stroke="#000" stroke-width="0.35" text-anchor="middle" fill="#000">-2</text>
<text x="481.60" y="378.00" font-size="10" font-weight="bold" stroke="#000" stroke-width="0.35" text-anchor="middle" fill="#000">HOTAIR(log10)</text>
<text x="363.40" y="287.40" font-size="10.1" font-weight="bold" stroke="#000" stroke-width="0.35" text-anchor="middle" fill="#000" transform="rotate(-90 363.40 287.40)">LSH(log10)</text>
<text x="400.80" y="228.50" font-size="9.26" text-anchor="start" fill="#3a3a3a" stroke="#3a3a3a" stroke-width="0.2">R=-0.3365</text>
<text x="400.80" y="240.50" font-size="9.26" text-anchor="start" fill="#3a3a3a" stroke="#3a3a3a" stroke-width="0.2">P=0.0023</text>
<circle cx="418.70" cy="259.20" r="2.35" fill="#000"/>
<circle cx="413.10" cy="291.00" r="2.35" fill="#000"/>
<circle cx="418.50" cy="308.80" r="2.35" fill="#000"/>
<circle cx="431.90" cy="304.80" r="2.35" fill="#000"/>
<circle cx="430.00" cy="316.30" r="2.35" fill="#000"/>
<circle cx="436.90" cy="312.30" r="2.35" fill="#000"/>
<circle cx="440.40" cy="309.20" r="2.35" fill="#000"/>
<circle cx="438.50" cy="323.30" r="2.35" fill="#000"/>
<circle cx="440.60" cy="267.90" r="2.35" fill="#000"/>
<circle cx="442.70" cy="270.40" r="2.35" fill="#000"/>
<circle cx="444.60" cy="295.20" r="2.35" fill="#000"/>
<circle cx="447.90" cy="305.80" r="2.35" fill="#000"/>
<circle cx="451.30" cy="322.10" r="2.35" fill="#000"/>
<circle cx="456.90" cy="335.60" r="2.35" fill="#000"/>
<circle cx="456.50" cy="299.20" r="2.35" fill="#000"/>
<circle cx="462.30" cy="284.00" r="2.35" fill="#000"/>
<circle cx="463.30" cy="270.40" r="2.35" fill="#000"/>
<circle cx="468.80" cy="269.80" r="2.35" fill="#000"/>
<circle cx="465.20" cy="292.10" r="2.35" fill="#000"/>
<circle cx="465.20" cy="298.70" r="2.35" fill="#000"/>
<circle cx="466.70" cy="310.80" r="2.35" fill="#000"/>
<circle cx="473.90" cy="311.50" r="2.35" fill="#000"/>
<circle cx="479.00" cy="279.00" r="2.35" fill="#000"/>
<circle cx="479.40" cy="287.20" r="2.35" fill="#000"/>
<circle cx="479.20" cy="296.80" r="2.35" fill="#000"/>
<circle cx="483.50" cy="277.10" r="2.35" fill="#000"/>
<circle cx="487.90" cy="296.20" r="2.35" fill="#000"/>
<circle cx="487.90" cy="321.20" r="2.35" fill="#000"/>
<circle cx="497.70" cy="251.10" r="2.35" fill="#000"/>
<circle cx="508.80" cy="250.40" r="2.35" fill="#000"/>
<circle cx="521.80" cy="252.00" r="2.35" fill="#000"/>
<circle cx="491.60" cy="258.30" r="2.35" fill="#000"/>
<circle cx="488.10" cy="262.70" r="2.35" fill="#000"/>
<circle cx="491.00" cy="265.60" r="2.35" fill="#000"/>
<circle cx="501.80" cy="258.10" r="2.35" fill="#000"/>
<circle cx="504.70" cy="260.10" r="2.35" fill="#000"/>
<circle cx="507.60" cy="262.10" r="2.35" fill="#000"/>
<circle cx="510.40" cy="258.80" r="2.35" fill="#000"/>
<circle cx="517.90" cy="256.80" r="2.35" fill="#000"/>
<circle cx="545.50" cy="258.70" r="2.35" fill="#000"/>
<circle cx="515.70" cy="266.50" r="2.35" fill="#000"/>
<circle cx="521.80" cy="267.60" r="2.35" fill="#000"/>
<circle cx="523.50" cy="266.90" r="2.35" fill="#000"/>
<circle cx="533.70" cy="267.60" r="2.35" fill="#000"/>
<circle cx="503.10" cy="270.70" r="2.35" fill="#000"/>
<circle cx="512.30" cy="272.20" r="2.35" fill="#000"/>
<circle cx="515.70" cy="273.20" r="2.35" fill="#000"/>
<circle cx="514.80" cy="275.70" r="2.35" fill="#000"/>
<circle cx="522.80" cy="273.20" r="2.35" fill="#000"/>
<circle cx="507.30" cy="276.50" r="2.35" fill="#000"/>
<circle cx="509.50" cy="278.10" r="2.35" fill="#000"/>
<circle cx="502.50" cy="279.20" r="2.35" fill="#000"/>
<circle cx="512.30" cy="282.70" r="2.35" fill="#000"/>
<circle cx="518.30" cy="279.20" r="2.35" fill="#000"/>
<circle cx="519.20" cy="282.70" r="2.35" fill="#000"/>
<circle cx="521.80" cy="287.00" r="2.35" fill="#000"/>
<circle cx="524.90" cy="283.10" r="2.35" fill="#000"/>
<circle cx="529.20" cy="274.80" r="2.35" fill="#000"/>
<circle cx="532.30" cy="276.40" r="2.35" fill="#000"/>
<circle cx="540.20" cy="279.00" r="2.35" fill="#000"/>
<circle cx="544.40" cy="282.00" r="2.35" fill="#000"/>
<circle cx="549.60" cy="281.10" r="2.35" fill="#000"/>
<circle cx="558.30" cy="276.00" r="2.35" fill="#000"/>
<circle cx="557.00" cy="280.70" r="2.35" fill="#000"/>
<circle cx="563.30" cy="285.30" r="2.35" fill="#000"/>
<circle cx="540.00" cy="287.20" r="2.35" fill="#000"/>
<circle cx="540.00" cy="291.20" r="2.35" fill="#000"/>
<circle cx="556.20" cy="288.30" r="2.35" fill="#000"/>
<circle cx="496.40" cy="291.60" r="2.35" fill="#000"/>
<circle cx="514.80" cy="291.40" r="2.35" fill="#000"/>
<circle cx="497.90" cy="299.20" r="2.35" fill="#000"/>
<circle cx="497.50" cy="304.40" r="2.35" fill="#000"/>
<circle cx="512.70" cy="298.10" r="2.35" fill="#000"/>
<circle cx="514.60" cy="300.80" r="2.35" fill="#000"/>
<circle cx="502.10" cy="311.90" r="2.35" fill="#000"/>
<circle cx="513.10" cy="314.20" r="2.35" fill="#000"/>
<line x1="412.50" y1="301.40" x2="563.80" y2="270.20" stroke="#000" stroke-width="1.3"/>
<rect x="56.50" y="422.50" width="164.50" height="132.10" fill="none" stroke="#8a8a8a" stroke-width="1"/>
<line x1="53.00" y1="549.90" x2="56.50" y2="549.90" stroke="#8a8a8a" stroke-width="0.9"/>
<text x="48.40" y="550.80" font-size="9.9" text-anchor="middle" fill="#1a1a1a" transform="rotate(-90 48.40 550.80)" stroke="#1a1a1a" stroke-width="0.25">0.0</text>
<line x1="53.00" y1="525.30" x2="56.50" y2="525.30" stroke="#8a8a8a" stroke-width="0.9"/>
<text x="48.40" y="526.20" font-size="9.9" text-anchor="middle" fill="#1a1a1a" transform="rotate(-90 48.40 526.20)" stroke="#1a1a1a" stroke-width="0.25">0.2</text>
<line x1="53.00" y1="500.70" x2="56.50" y2="500.70" stroke="#8a8a8a" stroke-width="0.9"/>
<text x="48.40" y="501.60" font-size="9.9" text-anchor="middle" fill="#1a1a1a" transform="rotate(-90 48.40 501.60)" stroke="#1a1a1a" stroke-width="0.25">0.4</text>
<line x1="53.00" y1="476.10" x2="56.50" y2="476.10" stroke="#8a8a8a" stroke-width="0.9"/>
<text x="48.40" y="477.00" font-size="9.9" text-anchor="middle" fill="#1a1a1a" transform="rotate(-90 48.40 477.00)" stroke="#1a1a1a" stroke-width="0.25">0.6</text>
<line x1="53.00" y1="451.50" x2="56.50" y2="451.50" stroke="#8a8a8a" stroke-width="0.9"/>
<text x="48.40" y="452.40" font-size="9.9" text-anchor="middle" fill="#1a1a1a" transform="rotate(-90 48.40 452.40)" stroke="#1a1a1a" stroke-width="0.25">0.8</text>
<line x1="53.00" y1="426.90" x2="56.50" y2="426.90" stroke="#8a8a8a" stroke-width="0.9"/>
<text x="48.40" y="427.80" font-size="9.9" text-anchor="middle" fill="#1a1a1a" transform="rotate(-90 48.40 427.80)" stroke="#1a1a1a" stroke-width="0.25">1.0</text>
<line x1="56.60" y1="554.60" x2="56.60" y2="558.10" stroke="#8a8a8a" stroke-width="0.9"/>
<text x="56.60" y="570.80" font-size="9.9" text-anchor="middle" fill="#1a1a1a" stroke="#1a1a1a" stroke-width="0.25">0</text>
<line x1="90.00" y1="554.60" x2="90.00" y2="558.10" stroke="#8a8a8a" stroke-width="0.9"/>
<text x="90.70" y="570.80" font-size="9.9" text-anchor="middle" fill="#1a1a1a" stroke="#1a1a1a" stroke-width="0.25">50</text>
<line x1="123.00" y1="554.60" x2="123.00" y2="558.10" stroke="#8a8a8a" stroke-width="0.9"/>
<text x="120.90" y="570.80" font-size="9.9" text-anchor="middle" fill="#1a1a1a" stroke="#1a1a1a" stroke-width="0.25">100</text>
<line x1="156.40" y1="554.60" x2="156.40" y2="558.10" stroke="#8a8a8a" stroke-width="0.9"/>
<text x="155.60" y="570.80" font-size="9.9" text-anchor="middle" fill="#1a1a1a" stroke="#1a1a1a" stroke-width="0.25">150</text>
<line x1="189.30" y1="554.60" x2="189.30" y2="558.10" stroke="#8a8a8a" stroke-width="0.9"/>
<text x="189.50" y="570.80" font-size="9.9" text-anchor="middle" fill="#1a1a1a" stroke="#1a1a1a" stroke-width="0.25">200</text>
<text x="28.10" y="487.00" font-size="10.9" text-anchor="middle" fill="#1a1a1a" transform="rotate(-90 28.10 487.00)" stroke="#1a1a1a" stroke-width="0.25">Probability</text>
<text x="212.00" y="437.90" font-size="9.52" text-anchor="end" fill="#1a1a1a" stroke="#1a1a1a" stroke-width="0.25">HR=1.33 (1.17-1.51)</text>
<text x="212.00" y="448.90" font-size="9.52" text-anchor="end" fill="#1a1a1a" stroke="#1a1a1a" stroke-width="0.25">Logrank P=8.1e-06</text>
<text x="64.70" y="525.30" font-size="9.57" text-anchor="start" fill="#1a1a1a" stroke="#1a1a1a" stroke-width="0.25">Expression</text>
<line x1="63.90" y1="534.60" x2="83.80" y2="534.60" stroke="#111" stroke-width="1.7"/>
<line x1="63.90" y1="544.20" x2="83.80" y2="544.20" stroke="#d23a28" stroke-width="1.7"/>
<text x="91.40" y="535.90" font-size="9.57" text-anchor="start" fill="#1a1a1a" stroke="#1a1a1a" stroke-width="0.25">low</text>
<text x="91.40" y="548.20" font-size="9.57" text-anchor="start" fill="#1a1a1a" stroke="#1a1a1a" stroke-width="0.25">high</text>
<rect x="283.60" y="415.60" width="171.60" height="137.30" fill="none" stroke="#8a8a8a" stroke-width="1"/>
<line x1="280.10" y1="548.10" x2="283.60" y2="548.10" stroke="#8a8a8a" stroke-width="0.9"/>
<text x="275.60" y="548.10" font-size="9.9" text-anchor="middle" fill="#1a1a1a" transform="rotate(-90 275.60 548.10)" stroke="#1a1a1a" stroke-width="0.25">0.0</text>
<line x1="280.10" y1="522.66" x2="283.60" y2="522.66" stroke="#8a8a8a" stroke-width="0.9"/>
<text x="275.60" y="522.66" font-size="9.9" text-anchor="middle" fill="#1a1a1a" transform="rotate(-90 275.60 522.66)" stroke="#1a1a1a" stroke-width="0.25">0.2</text>
<line x1="280.10" y1="497.22" x2="283.60" y2="497.22" stroke="#8a8a8a" stroke-width="0.9"/>
<text x="275.60" y="497.22" font-size="9.9" text-anchor="middle" fill="#1a1a1a" transform="rotate(-90 275.60 497.22)" stroke="#1a1a1a" stroke-width="0.25">0.4</text>
<line x1="280.10" y1="471.78" x2="283.60" y2="471.78" stroke="#8a8a8a" stroke-width="0.9"/>
<text x="275.60" y="471.78" font-size="9.9" text-anchor="middle" fill="#1a1a1a" transform="rotate(-90 275.60 471.78)" stroke="#1a1a1a" stroke-width="0.25">0.6</text>
<line x1="280.10" y1="446.34" x2="283.60" y2="446.34" stroke="#8a8a8a" stroke-width="0.9"/>
<text x="275.60" y="446.34" font-size="9.9" text-anchor="middle" fill="#1a1a1a" transform="rotate(-90 275.60 446.34)" stroke="#1a1a1a" stroke-width="0.25">0.8</text>
<line x1="280.10" y1="420.90" x2="283.60" y2="420.90" stroke="#8a8a8a" stroke-width="0.9"/>
<text x="275.60" y="420.90" font-size="9.9" text-anchor="middle" fill="#1a1a1a" transform="rotate(-90 275.60 420.90)" stroke="#1a1a1a" stroke-width="0.25">1.0</text>
<line x1="284.20" y1="552.90" x2="284.20" y2="556.40" stroke="#8a8a8a" stroke-width="0.9"/>
<text x="283.80" y="570.80" font-size="9.9" text-anchor="middle" fill="#1a1a1a" stroke="#1a1a1a" stroke-width="0.25">0</text>
<line x1="321.50" y1="552.90" x2="321.50" y2="556.40" stroke="#8a8a8a" stroke-width="0.9"/>
<text x="321.80" y="570.80" font-size="9.9" text-anchor="middle" fill="#1a1a1a" stroke="#1a1a1a" stroke-width="0.25">50</text>
<line x1="358.60" y1="552.90" x2="358.60" y2="556.40" stroke="#8a8a8a" stroke-width="0.9"/>
<text x="358.60" y="570.80" font-size="9.9" text-anchor="middle" fill="#1a1a1a" stroke="#1a1a1a" stroke-width="0.25">100</text>
<line x1="395.90" y1="552.90" x2="395.90" y2="556.40" stroke="#8a8a8a" stroke-width="0.9"/>
<text x="396.40" y="570.80" font-size="9.9" text-anchor="middle" fill="#1a1a1a" stroke="#1a1a1a" stroke-width="0.25">150</text>
<line x1="432.60" y1="552.90" x2="432.60" y2="556.40" stroke="#8a8a8a" stroke-width="0.9"/>
<text x="434.00" y="570.80" font-size="9.9" text-anchor="middle" fill="#1a1a1a" stroke="#1a1a1a" stroke-width="0.25">200</text>
<text x="253.80" y="483.90" font-size="11.4" text-anchor="middle" fill="#1a1a1a" transform="rotate(-90 253.80 483.90)" stroke="#1a1a1a" stroke-width="0.25">Probability</text>
<text x="445.60" y="433.00" font-size="9.94" text-anchor="end" fill="#1a1a1a" stroke="#1a1a1a" stroke-width="0.25">HR=2.08(1.63-2.64)</text>
<text x="445.60" y="444.40" font-size="9.94" text-anchor="end" fill="#1a1a1a" stroke="#1a1a1a" stroke-width="0.25">Logrank P=1.1e-09</text>
<text x="291.20" y="522.30" font-size="9.7" text-anchor="start" fill="#1a1a1a" stroke="#1a1a1a" stroke-width="0.25">Expression</text>
<line x1="290.40" y1="531.60" x2="311.80" y2="531.60" stroke="#111" stroke-width="1.7"/>
<line x1="290.40" y1="541.70" x2="311.80" y2="541.70" stroke="#d23a28" stroke-width="1.7"/>
<text x="319.70" y="533.20" font-size="9.7" text-anchor="start" fill="#1a1a1a" stroke="#1a1a1a" stroke-width="0.25">low</text>
<text x="319.70" y="545.00" font-size="9.7" text-anchor="start" fill="#1a1a1a" stroke="#1a1a1a" stroke-width="0.25">high</text>
<rect x="520.40" y="421.30" width="162.90" height="132.00" fill="none" stroke="#8a8a8a" stroke-width="1"/>
<line x1="516.90" y1="548.50" x2="520.40" y2="548.50" stroke="#8a8a8a" stroke-width="0.9"/>
<text x="510.70" y="548.50" font-size="9.9" text-anchor="middle" fill="#1a1a1a" transform="rotate(-90 510.70 548.50)" stroke="#1a1a1a" stroke-width="0.25">0.0</text>
<line x1="516.90" y1="524.22" x2="520.40" y2="524.22" stroke="#8a8a8a" stroke-width="0.9"/>
<text x="510.70" y="524.22" font-size="9.9" text-anchor="middle" fill="#1a1a1a" transform="rotate(-90 510.70 524.22)" stroke="#1a1a1a" stroke-width="0.25">0.2</text>
<line x1="516.90" y1="499.94" x2="520.40" y2="499.94" stroke="#8a8a8a" stroke-width="0.9"/>
<text x="510.70" y="499.94" font-size="9.9" text-anchor="middle" fill="#1a1a1a" transform="rotate(-90 510.70 499.94)" stroke="#1a1a1a" stroke-width="0.25">0.4</text>
<line x1="516.90" y1="475.66" x2="520.40" y2="475.66" stroke="#8a8a8a" stroke-width="0.9"/>
<text x="510.70" y="475.66" font-size="9.9" text-anchor="middle" fill="#1a1a1a" transform="rotate(-90 510.70 475.66)" stroke="#1a1a1a" stroke-width="0.25">0.6</text>
<line x1="516.90" y1="451.38" x2="520.40" y2="451.38" stroke="#8a8a8a" stroke-width="0.9"/>
<text x="510.70" y="451.38" font-size="9.9" text-anchor="middle" fill="#1a1a1a" transform="rotate(-90 510.70 451.38)" stroke="#1a1a1a" stroke-width="0.25">0.8</text>
<line x1="516.90" y1="427.10" x2="520.40" y2="427.10" stroke="#8a8a8a" stroke-width="0.9"/>
<text x="510.70" y="427.10" font-size="9.9" text-anchor="middle" fill="#1a1a1a" transform="rotate(-90 510.70 427.10)" stroke="#1a1a1a" stroke-width="0.25">1.0</text>
<line x1="520.20" y1="553.30" x2="520.20" y2="556.80" stroke="#8a8a8a" stroke-width="0.9"/>
<text x="520.80" y="570.80" font-size="9.9" text-anchor="middle" fill="#1a1a1a" stroke="#1a1a1a" stroke-width="0.25">0</text>
<line x1="553.60" y1="553.30" x2="553.60" y2="556.80" stroke="#8a8a8a" stroke-width="0.9"/>
<text x="553.10" y="570.80" font-size="9.9" text-anchor="middle" fill="#1a1a1a" stroke="#1a1a1a" stroke-width="0.25">50</text>
<line x1="586.50" y1="553.30" x2="586.50" y2="556.80" stroke="#8a8a8a" stroke-width="0.9"/>
<text x="585.40" y="570.80" font-size="9.9" text-anchor="middle" fill="#1a1a1a" stroke="#1a1a1a" stroke-width="0.25">100</text>
<line x1="619.30" y1="553.30" x2="619.30" y2="556.80" stroke="#8a8a8a" stroke-width="0.9"/>
<text x="618.50" y="570.80" font-size="9.9" text-anchor="middle" fill="#1a1a1a" stroke="#1a1a1a" stroke-width="0.25">150</text>
<line x1="652.10" y1="553.30" x2="652.10" y2="556.80" stroke="#8a8a8a" stroke-width="0.9"/>
<text x="651.60" y="570.80" font-size="9.9" text-anchor="middle" fill="#1a1a1a" stroke="#1a1a1a" stroke-width="0.25">200</text>
<text x="490.30" y="486.20" font-size="11.0" text-anchor="middle" fill="#1a1a1a" transform="rotate(-90 490.30 486.20)" stroke="#1a1a1a" stroke-width="0.25">Probability</text>
<text x="675.80" y="437.30" font-size="9.49" text-anchor="end" fill="#1a1a1a" stroke="#1a1a1a" stroke-width="0.25">HR=1.1 (0.87-1.4)</text>
<text x="675.80" y="448.30" font-size="9.49" text-anchor="end" fill="#1a1a1a" stroke="#1a1a1a" stroke-width="0.25">Logrank P=0.42</text>
<text x="529.00" y="521.20" font-size="9.4" text-anchor="start" fill="#1a1a1a" stroke="#1a1a1a" stroke-width="0.25">Expression</text>
<line x1="528.20" y1="531.00" x2="548.50" y2="531.00" stroke="#111" stroke-width="1.7"/>
<line x1="528.20" y1="540.60" x2="548.50" y2="540.60" stroke="#d23a28" stroke-width="1.7"/>
<text x="556.00" y="531.90" font-size="9.4" text-anchor="start" fill="#1a1a1a" stroke="#1a1a1a" stroke-width="0.25">low</text>
<text x="556.00" y="543.80" font-size="9.4" text-anchor="start" fill="#1a1a1a" stroke="#1a1a1a" stroke-width="0.25">high</text>
<polyline points="56.80,428.00 58.90,434.20 61.10,439.50 63.30,444.70 65.50,449.10 68.10,455.20 71.20,460.50 74.20,465.70 77.70,471.00 80.00,473.60 84.20,480.50 90.50,486.20 95.70,489.40 101.00,493.60 106.20,498.30 110.40,503.00 113.60,504.10 117.80,503.00 120.90,506.20 126.20,509.30 131.40,511.90 135.00,514.00 138.60,515.80 143.00,517.30 146.00,518.70" fill="none" stroke="#de1018" stroke-width="2.6" stroke-linejoin="round" stroke-linecap="butt"/>
<polyline points="146.00,518.70 171.50,518.70 172.20,519.80 173.00,521.30 192.30,521.30 192.30,531.00 214.70,531.00" fill="none" stroke="#f03030" stroke-width="1.0" stroke-linejoin="round" stroke-linecap="butt"/>
<line x1="73.60" y1="466.91" x2="76.40" y2="466.91" stroke="#de1018" stroke-width="1.0"/>
<line x1="75.00" y1="465.51" x2="75.00" y2="468.31" stroke="#de1018" stroke-width="1.0"/>
<line x1="76.10" y1="470.70" x2="78.90" y2="470.70" stroke="#de1018" stroke-width="1.0"/>
<line x1="77.50" y1="469.30" x2="77.50" y2="472.10" stroke="#de1018" stroke-width="1.0"/>
<line x1="78.60" y1="473.60" x2="81.40" y2="473.60" stroke="#de1018" stroke-width="1.0"/>
<line x1="80.00" y1="472.20" x2="80.00" y2="475.00" stroke="#de1018" stroke-width="1.0"/>
<line x1="81.10" y1="477.71" x2="83.90" y2="477.71" stroke="#de1018" stroke-width="1.0"/>
<line x1="82.50" y1="476.31" x2="82.50" y2="479.11" stroke="#de1018" stroke-width="1.0"/>
<line x1="83.60" y1="481.22" x2="86.40" y2="481.22" stroke="#de1018" stroke-width="1.0"/>
<line x1="85.00" y1="479.82" x2="85.00" y2="482.62" stroke="#de1018" stroke-width="1.0"/>
<line x1="86.10" y1="483.49" x2="88.90" y2="483.49" stroke="#de1018" stroke-width="1.0"/>
<line x1="87.50" y1="482.09" x2="87.50" y2="484.89" stroke="#de1018" stroke-width="1.0"/>
<line x1="88.60" y1="485.75" x2="91.40" y2="485.75" stroke="#de1018" stroke-width="1.0"/>
<line x1="90.00" y1="484.35" x2="90.00" y2="487.15" stroke="#de1018" stroke-width="1.0"/>
<line x1="91.10" y1="487.43" x2="93.90" y2="487.43" stroke="#de1018" stroke-width="1.0"/>
<line x1="92.50" y1="486.03" x2="92.50" y2="488.83" stroke="#de1018" stroke-width="1.0"/>
<line x1="93.60" y1="488.97" x2="96.40" y2="488.97" stroke="#de1018" stroke-width="1.0"/>
<line x1="95.00" y1="487.57" x2="95.00" y2="490.37" stroke="#de1018" stroke-width="1.0"/>
<line x1="96.10" y1="490.83" x2="98.90" y2="490.83" stroke="#de1018" stroke-width="1.0"/>
<line x1="97.50" y1="489.43" x2="97.50" y2="492.23" stroke="#de1018" stroke-width="1.0"/>
<line x1="98.60" y1="492.81" x2="101.40" y2="492.81" stroke="#de1018" stroke-width="1.0"/>
<line x1="100.00" y1="491.41" x2="100.00" y2="494.21" stroke="#de1018" stroke-width="1.0"/>
<line x1="101.10" y1="494.96" x2="103.90" y2="494.96" stroke="#de1018" stroke-width="1.0"/>
<line x1="102.50" y1="493.56" x2="102.50" y2="496.36" stroke="#de1018" stroke-width="1.0"/>
<line x1="103.60" y1="497.22" x2="106.40" y2="497.22" stroke="#de1018" stroke-width="1.0"/>
<line x1="105.00" y1="495.82" x2="105.00" y2="498.62" stroke="#de1018" stroke-width="1.0"/>
<line x1="106.10" y1="499.75" x2="108.90" y2="499.75" stroke="#de1018" stroke-width="1.0"/>
<line x1="107.50" y1="498.35" x2="107.50" y2="501.15" stroke="#de1018" stroke-width="1.0"/>
<line x1="108.60" y1="502.55" x2="111.40" y2="502.55" stroke="#de1018" stroke-width="1.0"/>
<line x1="110.00" y1="501.15" x2="110.00" y2="503.95" stroke="#de1018" stroke-width="1.0"/>
<line x1="111.10" y1="503.72" x2="113.90" y2="503.72" stroke="#de1018" stroke-width="1.0"/>
<line x1="112.50" y1="502.32" x2="112.50" y2="505.12" stroke="#de1018" stroke-width="1.0"/>
<line x1="113.60" y1="503.73" x2="116.40" y2="503.73" stroke="#de1018" stroke-width="1.0"/>
<line x1="115.00" y1="502.33" x2="115.00" y2="505.13" stroke="#de1018" stroke-width="1.0"/>
<line x1="116.10" y1="503.08" x2="118.90" y2="503.08" stroke="#de1018" stroke-width="1.0"/>
<line x1="117.50" y1="501.68" x2="117.50" y2="504.48" stroke="#de1018" stroke-width="1.0"/>
<line x1="118.60" y1="505.27" x2="121.40" y2="505.27" stroke="#de1018" stroke-width="1.0"/>
<line x1="120.00" y1="503.87" x2="120.00" y2="506.67" stroke="#de1018" stroke-width="1.0"/>
<line x1="121.10" y1="507.14" x2="123.90" y2="507.14" stroke="#de1018" stroke-width="1.0"/>
<line x1="122.50" y1="505.74" x2="122.50" y2="508.54" stroke="#de1018" stroke-width="1.0"/>
<line x1="123.60" y1="508.60" x2="126.40" y2="508.60" stroke="#de1018" stroke-width="1.0"/>
<line x1="125.00" y1="507.20" x2="125.00" y2="510.00" stroke="#de1018" stroke-width="1.0"/>
<line x1="126.10" y1="509.95" x2="128.90" y2="509.95" stroke="#de1018" stroke-width="1.0"/>
<line x1="127.50" y1="508.55" x2="127.50" y2="511.35" stroke="#de1018" stroke-width="1.0"/>
<line x1="128.60" y1="511.20" x2="131.40" y2="511.20" stroke="#de1018" stroke-width="1.0"/>
<line x1="130.00" y1="509.80" x2="130.00" y2="512.60" stroke="#de1018" stroke-width="1.0"/>
<line x1="131.10" y1="512.54" x2="133.90" y2="512.54" stroke="#de1018" stroke-width="1.0"/>
<line x1="132.50" y1="511.14" x2="132.50" y2="513.94" stroke="#de1018" stroke-width="1.0"/>
<line x1="133.60" y1="514.00" x2="136.40" y2="514.00" stroke="#de1018" stroke-width="1.0"/>
<line x1="135.00" y1="512.60" x2="135.00" y2="515.40" stroke="#de1018" stroke-width="1.0"/>
<line x1="136.10" y1="515.25" x2="138.90" y2="515.25" stroke="#de1018" stroke-width="1.0"/>
<line x1="137.50" y1="513.85" x2="137.50" y2="516.65" stroke="#de1018" stroke-width="1.0"/>
<line x1="138.60" y1="516.28" x2="141.40" y2="516.28" stroke="#de1018" stroke-width="1.0"/>
<line x1="140.00" y1="514.88" x2="140.00" y2="517.68" stroke="#de1018" stroke-width="1.0"/>
<line x1="141.10" y1="517.13" x2="143.90" y2="517.13" stroke="#de1018" stroke-width="1.0"/>
<line x1="142.50" y1="515.73" x2="142.50" y2="518.53" stroke="#de1018" stroke-width="1.0"/>
<line x1="143.60" y1="518.23" x2="146.40" y2="518.23" stroke="#de1018" stroke-width="1.0"/>
<line x1="145.00" y1="516.83" x2="145.00" y2="519.63" stroke="#de1018" stroke-width="1.0"/>
<line x1="149.00" y1="518.70" x2="152.00" y2="518.70" stroke="#f03030" stroke-width="0.9"/>
<line x1="150.50" y1="517.20" x2="150.50" y2="520.20" stroke="#f03030" stroke-width="0.9"/>
<line x1="151.50" y1="518.70" x2="154.50" y2="518.70" stroke="#f03030" stroke-width="0.9"/>
<line x1="153.00" y1="517.20" x2="153.00" y2="520.20" stroke="#f03030" stroke-width="0.9"/>
<line x1="156.50" y1="518.70" x2="159.50" y2="518.70" stroke="#f03030" stroke-width="0.9"/>
<line x1="158.00" y1="517.20" x2="158.00" y2="520.20" stroke="#f03030" stroke-width="0.9"/>
<line x1="159.50" y1="518.70" x2="162.50" y2="518.70" stroke="#f03030" stroke-width="0.9"/>
<line x1="161.00" y1="517.20" x2="161.00" y2="520.20" stroke="#f03030" stroke-width="0.9"/>
<line x1="163.00" y1="518.70" x2="166.00" y2="518.70" stroke="#f03030" stroke-width="0.9"/>
<line x1="164.50" y1="517.20" x2="164.50" y2="520.20" stroke="#f03030" stroke-width="0.9"/>
<line x1="165.50" y1="518.70" x2="168.50" y2="518.70" stroke="#f03030" stroke-width="0.9"/>
<line x1="167.00" y1="517.20" x2="167.00" y2="520.20" stroke="#f03030" stroke-width="0.9"/>
<line x1="168.00" y1="518.70" x2="171.00" y2="518.70" stroke="#f03030" stroke-width="0.9"/>
<line x1="169.50" y1="517.20" x2="169.50" y2="520.20" stroke="#f03030" stroke-width="0.9"/>
<line x1="175.00" y1="521.30" x2="178.00" y2="521.30" stroke="#f03030" stroke-width="0.9"/>
<line x1="176.50" y1="519.80" x2="176.50" y2="522.80" stroke="#f03030" stroke-width="0.9"/>
<line x1="177.00" y1="521.30" x2="180.00" y2="521.30" stroke="#f03030" stroke-width="0.9"/>
<line x1="178.50" y1="519.80" x2="178.50" y2="522.80" stroke="#f03030" stroke-width="0.9"/>
<line x1="179.50" y1="521.30" x2="182.50" y2="521.30" stroke="#f03030" stroke-width="0.9"/>
<line x1="181.00" y1="519.80" x2="181.00" y2="522.80" stroke="#f03030" stroke-width="0.9"/>
<line x1="182.00" y1="521.30" x2="185.00" y2="521.30" stroke="#f03030" stroke-width="0.9"/>
<line x1="183.50" y1="519.80" x2="183.50" y2="522.80" stroke="#f03030" stroke-width="0.9"/>
<line x1="184.50" y1="521.30" x2="187.50" y2="521.30" stroke="#f03030" stroke-width="0.9"/>
<line x1="186.00" y1="519.80" x2="186.00" y2="522.80" stroke="#f03030" stroke-width="0.9"/>
<line x1="187.00" y1="521.30" x2="190.00" y2="521.30" stroke="#f03030" stroke-width="0.9"/>
<line x1="188.50" y1="519.80" x2="188.50" y2="522.80" stroke="#f03030" stroke-width="0.9"/>
<line x1="195.50" y1="531.00" x2="198.50" y2="531.00" stroke="#f03030" stroke-width="0.9"/>
<line x1="197.00" y1="529.50" x2="197.00" y2="532.50" stroke="#f03030" stroke-width="0.9"/>
<line x1="198.00" y1="531.00" x2="201.00" y2="531.00" stroke="#f03030" stroke-width="0.9"/>
<line x1="199.50" y1="529.50" x2="199.50" y2="532.50" stroke="#f03030" stroke-width="0.9"/>
<line x1="211.00" y1="531.00" x2="214.00" y2="531.00" stroke="#f03030" stroke-width="0.9"/>
<line x1="212.50" y1="529.50" x2="212.50" y2="532.50" stroke="#f03030" stroke-width="0.9"/>
<polyline points="57.00,426.80 60.20,432.50 63.30,438.60 65.50,444.30 68.10,448.20 71.60,454.30 75.10,458.70 78.60,462.20 80.00,464.20 85.20,469.40 90.50,474.20 95.70,476.80 101.00,480.50 106.20,484.10 111.50,487.30 114.60,488.80 118.80,492.50 124.10,495.10 129.30,498.80 134.50,501.40 137.90,502.30 140.10,505.20 143.00,506.70 145.90,509.20 148.10,511.10" fill="none" stroke="#111" stroke-width="3.0" stroke-linejoin="round" stroke-linecap="butt"/>
<polyline points="148.10,511.10 152.50,512.20 157.60,513.20 160.50,514.00 160.90,515.10 171.50,515.10 173.00,516.20 174.80,517.60 175.50,519.50 175.90,526.30 207.70,526.30 207.70,549.50" fill="none" stroke="#555" stroke-width="1.0" stroke-linejoin="round" stroke-linecap="butt"/>
<line x1="118.50" y1="493.09" x2="121.50" y2="493.09" stroke="#222" stroke-width="1.0"/>
<line x1="120.00" y1="491.59" x2="120.00" y2="494.59" stroke="#222" stroke-width="1.0"/>
<line x1="120.50" y1="494.07" x2="123.50" y2="494.07" stroke="#222" stroke-width="1.0"/>
<line x1="122.00" y1="492.57" x2="122.00" y2="495.57" stroke="#222" stroke-width="1.0"/>
<line x1="122.50" y1="495.05" x2="125.50" y2="495.05" stroke="#222" stroke-width="1.0"/>
<line x1="124.00" y1="493.55" x2="124.00" y2="496.55" stroke="#222" stroke-width="1.0"/>
<line x1="124.50" y1="496.45" x2="127.50" y2="496.45" stroke="#222" stroke-width="1.0"/>
<line x1="126.00" y1="494.95" x2="126.00" y2="497.95" stroke="#222" stroke-width="1.0"/>
<line x1="126.50" y1="497.88" x2="129.50" y2="497.88" stroke="#222" stroke-width="1.0"/>
<line x1="128.00" y1="496.38" x2="128.00" y2="499.38" stroke="#222" stroke-width="1.0"/>
<line x1="128.50" y1="499.15" x2="131.50" y2="499.15" stroke="#222" stroke-width="1.0"/>
<line x1="130.00" y1="497.65" x2="130.00" y2="500.65" stroke="#222" stroke-width="1.0"/>
<line x1="130.50" y1="500.15" x2="133.50" y2="500.15" stroke="#222" stroke-width="1.0"/>
<line x1="132.00" y1="498.65" x2="132.00" y2="501.65" stroke="#222" stroke-width="1.0"/>
<line x1="132.50" y1="501.15" x2="135.50" y2="501.15" stroke="#222" stroke-width="1.0"/>
<line x1="134.00" y1="499.65" x2="134.00" y2="502.65" stroke="#222" stroke-width="1.0"/>
<line x1="134.50" y1="501.80" x2="137.50" y2="501.80" stroke="#222" stroke-width="1.0"/>
<line x1="136.00" y1="500.30" x2="136.00" y2="503.30" stroke="#222" stroke-width="1.0"/>
<line x1="136.50" y1="502.43" x2="139.50" y2="502.43" stroke="#222" stroke-width="1.0"/>
<line x1="138.00" y1="500.93" x2="138.00" y2="503.93" stroke="#222" stroke-width="1.0"/>
<line x1="138.50" y1="505.07" x2="141.50" y2="505.07" stroke="#222" stroke-width="1.0"/>
<line x1="140.00" y1="503.57" x2="140.00" y2="506.57" stroke="#222" stroke-width="1.0"/>
<line x1="140.50" y1="506.18" x2="143.50" y2="506.18" stroke="#222" stroke-width="1.0"/>
<line x1="142.00" y1="504.68" x2="142.00" y2="507.68" stroke="#222" stroke-width="1.0"/>
<line x1="142.50" y1="507.56" x2="145.50" y2="507.56" stroke="#222" stroke-width="1.0"/>
<line x1="144.00" y1="506.06" x2="144.00" y2="509.06" stroke="#222" stroke-width="1.0"/>
<line x1="144.50" y1="509.29" x2="147.50" y2="509.29" stroke="#222" stroke-width="1.0"/>
<line x1="146.00" y1="507.79" x2="146.00" y2="510.79" stroke="#222" stroke-width="1.0"/>
<line x1="151.00" y1="513.00" x2="154.00" y2="513.00" stroke="#555" stroke-width="0.9"/>
<line x1="152.50" y1="511.50" x2="152.50" y2="514.50" stroke="#555" stroke-width="0.9"/>
<line x1="154.50" y1="513.00" x2="157.50" y2="513.00" stroke="#555" stroke-width="0.9"/>
<line x1="156.00" y1="511.50" x2="156.00" y2="514.50" stroke="#555" stroke-width="0.9"/>
<line x1="157.00" y1="513.00" x2="160.00" y2="513.00" stroke="#555" stroke-width="0.9"/>
<line x1="158.50" y1="511.50" x2="158.50" y2="514.50" stroke="#555" stroke-width="0.9"/>
<line x1="161.50" y1="515.10" x2="164.50" y2="515.10" stroke="#555" stroke-width="0.9"/>
<line x1="163.00" y1="513.60" x2="163.00" y2="516.60" stroke="#555" stroke-width="0.9"/>
<line x1="164.50" y1="515.10" x2="167.50" y2="515.10" stroke="#555" stroke-width="0.9"/>
<line x1="166.00" y1="513.60" x2="166.00" y2="516.60" stroke="#555" stroke-width="0.9"/>
<line x1="167.00" y1="515.10" x2="170.00" y2="515.10" stroke="#555" stroke-width="0.9"/>
<line x1="168.50" y1="513.60" x2="168.50" y2="516.60" stroke="#555" stroke-width="0.9"/>
<line x1="169.00" y1="515.10" x2="172.00" y2="515.10" stroke="#555" stroke-width="0.9"/>
<line x1="170.50" y1="513.60" x2="170.50" y2="516.60" stroke="#555" stroke-width="0.9"/>
<line x1="176.50" y1="526.30" x2="179.50" y2="526.30" stroke="#555" stroke-width="0.9"/>
<line x1="178.00" y1="524.80" x2="178.00" y2="527.80" stroke="#555" stroke-width="0.9"/>
<line x1="179.00" y1="526.30" x2="182.00" y2="526.30" stroke="#555" stroke-width="0.9"/>
<line x1="180.50" y1="524.80" x2="180.50" y2="527.80" stroke="#555" stroke-width="0.9"/>
<line x1="181.50" y1="526.30" x2="184.50" y2="526.30" stroke="#555" stroke-width="0.9"/>
<line x1="183.00" y1="524.80" x2="183.00" y2="527.80" stroke="#555" stroke-width="0.9"/>
<line x1="183.50" y1="526.30" x2="186.50" y2="526.30" stroke="#555" stroke-width="0.9"/>
<line x1="185.00" y1="524.80" x2="185.00" y2="527.80" stroke="#555" stroke-width="0.9"/>
<line x1="196.50" y1="526.30" x2="199.50" y2="526.30" stroke="#555" stroke-width="0.9"/>
<line x1="198.00" y1="524.80" x2="198.00" y2="527.80" stroke="#555" stroke-width="0.9"/>
<line x1="202.00" y1="526.30" x2="205.00" y2="526.30" stroke="#555" stroke-width="0.9"/>
<line x1="203.50" y1="524.80" x2="203.50" y2="527.80" stroke="#555" stroke-width="0.9"/>
<polyline points="284.20,421.60 284.60,424.60 286.40,428.10 289.00,431.60 290.70,433.80" fill="none" stroke="#de1018" stroke-width="2.6" stroke-linejoin="round" stroke-linecap="butt"/>
<polyline points="290.70,433.80 292.50,437.70 295.10,443.00 295.70,445.70 298.50,451.30 301.30,455.50 304.10,459.70 307.60,463.50 310.40,468.10 313.90,472.30 317.40,476.50 320.90,479.30 324.40,482.80 326.70,484.80 331.80,487.10 336.70,488.90 340.40,491.40 348.90,491.40 353.80,495.00 359.90,497.50 366.10,499.90 370.90,502.40 374.60,505.40" fill="none" stroke="#de1018" stroke-width="1.7" stroke-linejoin="round" stroke-linecap="butt"/>
<polyline points="374.60,505.40 395.00,505.40 395.70,508.80 413.90,508.80 414.30,522.00 428.80,522.00" fill="none" stroke="#f03030" stroke-width="1.0" stroke-linejoin="round" stroke-linecap="butt"/>
<line x1="298.80" y1="453.55" x2="301.20" y2="453.55" stroke="#de1018" stroke-width="1.0"/>
<line x1="300.00" y1="452.35" x2="300.00" y2="454.75" stroke="#de1018" stroke-width="1.0"/>
<line x1="301.30" y1="457.30" x2="303.70" y2="457.30" stroke="#de1018" stroke-width="1.0"/>
<line x1="302.50" y1="456.10" x2="302.50" y2="458.50" stroke="#de1018" stroke-width="1.0"/>
<line x1="303.80" y1="460.68" x2="306.20" y2="460.68" stroke="#de1018" stroke-width="1.0"/>
<line x1="305.00" y1="459.48" x2="305.00" y2="461.88" stroke="#de1018" stroke-width="1.0"/>
<line x1="306.30" y1="463.39" x2="308.70" y2="463.39" stroke="#de1018" stroke-width="1.0"/>
<line x1="307.50" y1="462.19" x2="307.50" y2="464.59" stroke="#de1018" stroke-width="1.0"/>
<line x1="308.80" y1="467.44" x2="311.20" y2="467.44" stroke="#de1018" stroke-width="1.0"/>
<line x1="310.00" y1="466.24" x2="310.00" y2="468.64" stroke="#de1018" stroke-width="1.0"/>
<line x1="311.30" y1="470.62" x2="313.70" y2="470.62" stroke="#de1018" stroke-width="1.0"/>
<line x1="312.50" y1="469.42" x2="312.50" y2="471.82" stroke="#de1018" stroke-width="1.0"/>
<line x1="313.80" y1="473.62" x2="316.20" y2="473.62" stroke="#de1018" stroke-width="1.0"/>
<line x1="315.00" y1="472.42" x2="315.00" y2="474.82" stroke="#de1018" stroke-width="1.0"/>
<line x1="316.30" y1="476.58" x2="318.70" y2="476.58" stroke="#de1018" stroke-width="1.0"/>
<line x1="317.50" y1="475.38" x2="317.50" y2="477.78" stroke="#de1018" stroke-width="1.0"/>
<line x1="318.80" y1="478.58" x2="321.20" y2="478.58" stroke="#de1018" stroke-width="1.0"/>
<line x1="320.00" y1="477.38" x2="320.00" y2="479.78" stroke="#de1018" stroke-width="1.0"/>
<line x1="321.30" y1="480.90" x2="323.70" y2="480.90" stroke="#de1018" stroke-width="1.0"/>
<line x1="322.50" y1="479.70" x2="322.50" y2="482.10" stroke="#de1018" stroke-width="1.0"/>
<line x1="323.80" y1="483.32" x2="326.20" y2="483.32" stroke="#de1018" stroke-width="1.0"/>
<line x1="325.00" y1="482.12" x2="325.00" y2="484.52" stroke="#de1018" stroke-width="1.0"/>
<line x1="326.30" y1="485.16" x2="328.70" y2="485.16" stroke="#de1018" stroke-width="1.0"/>
<line x1="327.50" y1="483.96" x2="327.50" y2="486.36" stroke="#de1018" stroke-width="1.0"/>
<line x1="328.80" y1="486.29" x2="331.20" y2="486.29" stroke="#de1018" stroke-width="1.0"/>
<line x1="330.00" y1="485.09" x2="330.00" y2="487.49" stroke="#de1018" stroke-width="1.0"/>
<line x1="331.30" y1="487.36" x2="333.70" y2="487.36" stroke="#de1018" stroke-width="1.0"/>
<line x1="332.50" y1="486.16" x2="332.50" y2="488.56" stroke="#de1018" stroke-width="1.0"/>
<line x1="333.80" y1="488.28" x2="336.20" y2="488.28" stroke="#de1018" stroke-width="1.0"/>
<line x1="335.00" y1="487.08" x2="335.00" y2="489.48" stroke="#de1018" stroke-width="1.0"/>
<line x1="336.30" y1="489.44" x2="338.70" y2="489.44" stroke="#de1018" stroke-width="1.0"/>
<line x1="337.50" y1="488.24" x2="337.50" y2="490.64" stroke="#de1018" stroke-width="1.0"/>
<line x1="338.80" y1="491.13" x2="341.20" y2="491.13" stroke="#de1018" stroke-width="1.0"/>
<line x1="340.00" y1="489.93" x2="340.00" y2="492.33" stroke="#de1018" stroke-width="1.0"/>
<line x1="341.30" y1="491.40" x2="343.70" y2="491.40" stroke="#de1018" stroke-width="1.0"/>
<line x1="342.50" y1="490.20" x2="342.50" y2="492.60" stroke="#de1018" stroke-width="1.0"/>
<line x1="343.80" y1="491.40" x2="346.20" y2="491.40" stroke="#de1018" stroke-width="1.0"/>
<line x1="345.00" y1="490.20" x2="345.00" y2="492.60" stroke="#de1018" stroke-width="1.0"/>
<line x1="346.30" y1="491.40" x2="348.70" y2="491.40" stroke="#de1018" stroke-width="1.0"/>
<line x1="347.50" y1="490.20" x2="347.50" y2="492.60" stroke="#de1018" stroke-width="1.0"/>
<line x1="348.80" y1="492.21" x2="351.20" y2="492.21" stroke="#de1018" stroke-width="1.0"/>
<line x1="350.00" y1="491.01" x2="350.00" y2="493.41" stroke="#de1018" stroke-width="1.0"/>
<line x1="351.30" y1="494.04" x2="353.70" y2="494.04" stroke="#de1018" stroke-width="1.0"/>
<line x1="352.50" y1="492.84" x2="352.50" y2="495.24" stroke="#de1018" stroke-width="1.0"/>
<line x1="353.80" y1="495.49" x2="356.20" y2="495.49" stroke="#de1018" stroke-width="1.0"/>
<line x1="355.00" y1="494.29" x2="355.00" y2="496.69" stroke="#de1018" stroke-width="1.0"/>
<line x1="356.30" y1="496.52" x2="358.70" y2="496.52" stroke="#de1018" stroke-width="1.0"/>
<line x1="357.50" y1="495.32" x2="357.50" y2="497.72" stroke="#de1018" stroke-width="1.0"/>
<line x1="358.80" y1="497.54" x2="361.20" y2="497.54" stroke="#de1018" stroke-width="1.0"/>
<line x1="360.00" y1="496.34" x2="360.00" y2="498.74" stroke="#de1018" stroke-width="1.0"/>
<line x1="361.30" y1="498.51" x2="363.70" y2="498.51" stroke="#de1018" stroke-width="1.0"/>
<line x1="362.50" y1="497.31" x2="362.50" y2="499.71" stroke="#de1018" stroke-width="1.0"/>
<line x1="363.80" y1="499.47" x2="366.20" y2="499.47" stroke="#de1018" stroke-width="1.0"/>
<line x1="365.00" y1="498.27" x2="365.00" y2="500.67" stroke="#de1018" stroke-width="1.0"/>
<line x1="366.30" y1="500.63" x2="368.70" y2="500.63" stroke="#de1018" stroke-width="1.0"/>
<line x1="367.50" y1="499.43" x2="367.50" y2="501.83" stroke="#de1018" stroke-width="1.0"/>
<line x1="368.80" y1="501.93" x2="371.20" y2="501.93" stroke="#de1018" stroke-width="1.0"/>
<line x1="370.00" y1="500.73" x2="370.00" y2="503.13" stroke="#de1018" stroke-width="1.0"/>
<line x1="371.30" y1="503.70" x2="373.70" y2="503.70" stroke="#de1018" stroke-width="1.0"/>
<line x1="372.50" y1="502.50" x2="372.50" y2="504.90" stroke="#de1018" stroke-width="1.0"/>
<line x1="375.50" y1="505.40" x2="378.50" y2="505.40" stroke="#f03030" stroke-width="0.9"/>
<line x1="377.00" y1="503.90" x2="377.00" y2="506.90" stroke="#f03030" stroke-width="0.9"/>
<line x1="378.00" y1="505.40" x2="381.00" y2="505.40" stroke="#f03030" stroke-width="0.9"/>
<line x1="379.50" y1="503.90" x2="379.50" y2="506.90" stroke="#f03030" stroke-width="0.9"/>
<line x1="380.50" y1="505.40" x2="383.50" y2="505.40" stroke="#f03030" stroke-width="0.9"/>
<line x1="382.00" y1="503.90" x2="382.00" y2="506.90" stroke="#f03030" stroke-width="0.9"/>
<line x1="383.00" y1="505.40" x2="386.00" y2="505.40" stroke="#f03030" stroke-width="0.9"/>
<line x1="384.50" y1="503.90" x2="384.50" y2="506.90" stroke="#f03030" stroke-width="0.9"/>
<line x1="385.50" y1="505.40" x2="388.50" y2="505.40" stroke="#f03030" stroke-width="0.9"/>
<line x1="387.00" y1="503.90" x2="387.00" y2="506.90" stroke="#f03030" stroke-width="0.9"/>
<line x1="389.00" y1="505.40" x2="392.00" y2="505.40" stroke="#f03030" stroke-width="0.9"/>
<line x1="390.50" y1="503.90" x2="390.50" y2="506.90" stroke="#f03030" stroke-width="0.9"/>
<line x1="400.50" y1="508.80" x2="403.50" y2="508.80" stroke="#f03030" stroke-width="0.9"/>
<line x1="402.00" y1="507.30" x2="402.00" y2="510.30" stroke="#f03030" stroke-width="0.9"/>
<line x1="403.50" y1="508.80" x2="406.50" y2="508.80" stroke="#f03030" stroke-width="0.9"/>
<line x1="405.00" y1="507.30" x2="405.00" y2="510.30" stroke="#f03030" stroke-width="0.9"/>
<line x1="406.00" y1="508.80" x2="409.00" y2="508.80" stroke="#f03030" stroke-width="0.9"/>
<line x1="407.50" y1="507.30" x2="407.50" y2="510.30" stroke="#f03030" stroke-width="0.9"/>
<line x1="409.50" y1="508.80" x2="412.50" y2="508.80" stroke="#f03030" stroke-width="0.9"/>
<line x1="411.00" y1="507.30" x2="411.00" y2="510.30" stroke="#f03030" stroke-width="0.9"/>
<line x1="411.00" y1="508.80" x2="414.00" y2="508.80" stroke="#f03030" stroke-width="0.9"/>
<line x1="412.50" y1="507.30" x2="412.50" y2="510.30" stroke="#f03030" stroke-width="0.9"/>
<line x1="416.50" y1="522.00" x2="419.50" y2="522.00" stroke="#f03030" stroke-width="0.9"/>
<line x1="418.00" y1="520.50" x2="418.00" y2="523.50" stroke="#f03030" stroke-width="0.9"/>
<line x1="420.50" y1="522.00" x2="423.50" y2="522.00" stroke="#f03030" stroke-width="0.9"/>
<line x1="422.00" y1="520.50" x2="422.00" y2="523.50" stroke="#f03030" stroke-width="0.9"/>
<polyline points="284.20,420.20 287.20,422.00 289.90,425.10 293.40,429.00 296.90,432.00 300.40,435.10" fill="none" stroke="#333" stroke-width="1.4" stroke-linejoin="round" stroke-linecap="butt"/>
<polyline points="300.40,435.10 303.00,438.20 307.30,439.90 310.80,442.50 315.20,445.60 319.60,449.80 324.50,451.60 331.80,453.50 336.70,457.10 342.80,460.80 347.70,463.20 351.40,467.50" fill="none" stroke="#111" stroke-width="2.6" stroke-linejoin="round" stroke-linecap="butt"/>
<polyline points="351.40,467.50 356.30,470.60 363.60,471.20 366.70,474.30 368.50,477.90 377.10,477.90 377.70,482.80 378.90,487.30 383.10,487.30 383.90,494.40 385.50,494.40 386.30,500.70 414.30,500.70 414.60,511.70 417.00,512.50 417.30,530.30 448.80,530.30" fill="none" stroke="#555" stroke-width="1.0" stroke-linejoin="round" stroke-linecap="butt"/>
<line x1="350.70" y1="467.88" x2="353.30" y2="467.88" stroke="#555" stroke-width="0.9"/>
<line x1="352.00" y1="466.58" x2="352.00" y2="469.18" stroke="#555" stroke-width="0.9"/>
<line x1="353.70" y1="469.78" x2="356.30" y2="469.78" stroke="#555" stroke-width="0.9"/>
<line x1="355.00" y1="468.48" x2="355.00" y2="471.08" stroke="#555" stroke-width="0.9"/>
<line x1="356.20" y1="470.70" x2="358.80" y2="470.70" stroke="#555" stroke-width="0.9"/>
<line x1="357.50" y1="469.40" x2="357.50" y2="472.00" stroke="#555" stroke-width="0.9"/>
<line x1="358.70" y1="470.90" x2="361.30" y2="470.90" stroke="#555" stroke-width="0.9"/>
<line x1="360.00" y1="469.60" x2="360.00" y2="472.20" stroke="#555" stroke-width="0.9"/>
<line x1="361.20" y1="471.11" x2="363.80" y2="471.11" stroke="#555" stroke-width="0.9"/>
<line x1="362.50" y1="469.81" x2="362.50" y2="472.41" stroke="#555" stroke-width="0.9"/>
<line x1="364.70" y1="473.60" x2="367.30" y2="473.60" stroke="#555" stroke-width="0.9"/>
<line x1="366.00" y1="472.30" x2="366.00" y2="474.90" stroke="#555" stroke-width="0.9"/>
<line x1="370.70" y1="477.90" x2="373.30" y2="477.90" stroke="#555" stroke-width="0.9"/>
<line x1="372.00" y1="476.60" x2="372.00" y2="479.20" stroke="#555" stroke-width="0.9"/>
<line x1="373.70" y1="477.90" x2="376.30" y2="477.90" stroke="#555" stroke-width="0.9"/>
<line x1="375.00" y1="476.60" x2="375.00" y2="479.20" stroke="#555" stroke-width="0.9"/>
<line x1="380.20" y1="487.30" x2="382.80" y2="487.30" stroke="#555" stroke-width="0.9"/>
<line x1="381.50" y1="486.00" x2="381.50" y2="488.60" stroke="#555" stroke-width="0.9"/>
<line x1="383.20" y1="494.40" x2="385.80" y2="494.40" stroke="#555" stroke-width="0.9"/>
<line x1="384.50" y1="493.10" x2="384.50" y2="495.70" stroke="#555" stroke-width="0.9"/>
<line x1="396.00" y1="500.70" x2="398.60" y2="500.70" stroke="#555" stroke-width="0.9"/>
<line x1="397.30" y1="499.40" x2="397.30" y2="502.00" stroke="#555" stroke-width="0.9"/>
<line x1="447.00" y1="530.30" x2="449.60" y2="530.30" stroke="#555" stroke-width="0.9"/>
<line x1="448.30" y1="529.00" x2="448.30" y2="531.60" stroke="#555" stroke-width="0.9"/>
<polyline points="520.60,432.50 521.90,436.90 523.70,441.20 525.40,446.50 527.20,451.70 529.40,457.00 532.00,462.20 535.00,466.60 538.10,471.00 540.00,476.50 544.50,481.60 549.10,484.40 554.80,486.70 559.30,489.00 563.90,493.00 568.40,497.50 574.10,500.90 580.90,503.20 587.70,507.70 593.40,510.00 599.10,514.00 604.80,518.00 606.50,520.20" fill="none" stroke="#de1018" stroke-width="2.0" stroke-linejoin="round" stroke-linecap="butt"/>
<polyline points="606.50,520.20 678.10,520.20" fill="none" stroke="#f03030" stroke-width="1.0" stroke-linejoin="round" stroke-linecap="butt"/>
<line x1="520.70" y1="437.14" x2="523.30" y2="437.14" stroke="#de1018" stroke-width="1.0"/>
<line x1="522.00" y1="435.84" x2="522.00" y2="438.44" stroke="#de1018" stroke-width="1.0"/>
<line x1="523.20" y1="443.69" x2="525.80" y2="443.69" stroke="#de1018" stroke-width="1.0"/>
<line x1="524.50" y1="442.39" x2="524.50" y2="444.99" stroke="#de1018" stroke-width="1.0"/>
<line x1="525.70" y1="451.12" x2="528.30" y2="451.12" stroke="#de1018" stroke-width="1.0"/>
<line x1="527.00" y1="449.82" x2="527.00" y2="452.42" stroke="#de1018" stroke-width="1.0"/>
<line x1="528.20" y1="457.20" x2="530.80" y2="457.20" stroke="#de1018" stroke-width="1.0"/>
<line x1="529.50" y1="455.90" x2="529.50" y2="458.50" stroke="#de1018" stroke-width="1.0"/>
<line x1="530.70" y1="462.20" x2="533.30" y2="462.20" stroke="#de1018" stroke-width="1.0"/>
<line x1="532.00" y1="460.90" x2="532.00" y2="463.50" stroke="#de1018" stroke-width="1.0"/>
<line x1="533.20" y1="465.87" x2="535.80" y2="465.87" stroke="#de1018" stroke-width="1.0"/>
<line x1="534.50" y1="464.57" x2="534.50" y2="467.17" stroke="#de1018" stroke-width="1.0"/>
<line x1="535.70" y1="469.44" x2="538.30" y2="469.44" stroke="#de1018" stroke-width="1.0"/>
<line x1="537.00" y1="468.14" x2="537.00" y2="470.74" stroke="#de1018" stroke-width="1.0"/>
<line x1="538.20" y1="475.05" x2="540.80" y2="475.05" stroke="#de1018" stroke-width="1.0"/>
<line x1="539.50" y1="473.75" x2="539.50" y2="476.35" stroke="#de1018" stroke-width="1.0"/>
<line x1="540.70" y1="478.77" x2="543.30" y2="478.77" stroke="#de1018" stroke-width="1.0"/>
<line x1="542.00" y1="477.47" x2="542.00" y2="480.07" stroke="#de1018" stroke-width="1.0"/>
<line x1="543.20" y1="481.60" x2="545.80" y2="481.60" stroke="#de1018" stroke-width="1.0"/>
<line x1="544.50" y1="480.30" x2="544.50" y2="482.90" stroke="#de1018" stroke-width="1.0"/>
<line x1="545.70" y1="483.12" x2="548.30" y2="483.12" stroke="#de1018" stroke-width="1.0"/>
<line x1="547.00" y1="481.82" x2="547.00" y2="484.42" stroke="#de1018" stroke-width="1.0"/>
<line x1="548.20" y1="484.56" x2="550.80" y2="484.56" stroke="#de1018" stroke-width="1.0"/>
<line x1="549.50" y1="483.26" x2="549.50" y2="485.86" stroke="#de1018" stroke-width="1.0"/>
<line x1="550.70" y1="485.57" x2="553.30" y2="485.57" stroke="#de1018" stroke-width="1.0"/>
<line x1="552.00" y1="484.27" x2="552.00" y2="486.87" stroke="#de1018" stroke-width="1.0"/>
<line x1="553.20" y1="486.58" x2="555.80" y2="486.58" stroke="#de1018" stroke-width="1.0"/>
<line x1="554.50" y1="485.28" x2="554.50" y2="487.88" stroke="#de1018" stroke-width="1.0"/>
<line x1="555.70" y1="487.82" x2="558.30" y2="487.82" stroke="#de1018" stroke-width="1.0"/>
<line x1="557.00" y1="486.52" x2="557.00" y2="489.12" stroke="#de1018" stroke-width="1.0"/>
<line x1="558.20" y1="489.17" x2="560.80" y2="489.17" stroke="#de1018" stroke-width="1.0"/>
<line x1="559.50" y1="487.87" x2="559.50" y2="490.47" stroke="#de1018" stroke-width="1.0"/>
<line x1="560.70" y1="491.35" x2="563.30" y2="491.35" stroke="#de1018" stroke-width="1.0"/>
<line x1="562.00" y1="490.05" x2="562.00" y2="492.65" stroke="#de1018" stroke-width="1.0"/>
<line x1="563.20" y1="493.60" x2="565.80" y2="493.60" stroke="#de1018" stroke-width="1.0"/>
<line x1="564.50" y1="492.30" x2="564.50" y2="494.90" stroke="#de1018" stroke-width="1.0"/>
<line x1="565.70" y1="496.10" x2="568.30" y2="496.10" stroke="#de1018" stroke-width="1.0"/>
<line x1="567.00" y1="494.80" x2="567.00" y2="497.40" stroke="#de1018" stroke-width="1.0"/>
<line x1="568.20" y1="498.16" x2="570.80" y2="498.16" stroke="#de1018" stroke-width="1.0"/>
<line x1="569.50" y1="496.86" x2="569.50" y2="499.46" stroke="#de1018" stroke-width="1.0"/>
<line x1="570.70" y1="499.65" x2="573.30" y2="499.65" stroke="#de1018" stroke-width="1.0"/>
<line x1="572.00" y1="498.35" x2="572.00" y2="500.95" stroke="#de1018" stroke-width="1.0"/>
<line x1="573.20" y1="501.04" x2="575.80" y2="501.04" stroke="#de1018" stroke-width="1.0"/>
<line x1="574.50" y1="499.74" x2="574.50" y2="502.34" stroke="#de1018" stroke-width="1.0"/>
<line x1="575.70" y1="501.88" x2="578.30" y2="501.88" stroke="#de1018" stroke-width="1.0"/>
<line x1="577.00" y1="500.58" x2="577.00" y2="503.18" stroke="#de1018" stroke-width="1.0"/>
<line x1="578.20" y1="502.73" x2="580.80" y2="502.73" stroke="#de1018" stroke-width="1.0"/>
<line x1="579.50" y1="501.43" x2="579.50" y2="504.03" stroke="#de1018" stroke-width="1.0"/>
<line x1="580.70" y1="503.93" x2="583.30" y2="503.93" stroke="#de1018" stroke-width="1.0"/>
<line x1="582.00" y1="502.63" x2="582.00" y2="505.23" stroke="#de1018" stroke-width="1.0"/>
<line x1="583.20" y1="505.58" x2="585.80" y2="505.58" stroke="#de1018" stroke-width="1.0"/>
<line x1="584.50" y1="504.28" x2="584.50" y2="506.88" stroke="#de1018" stroke-width="1.0"/>
<line x1="585.70" y1="507.24" x2="588.30" y2="507.24" stroke="#de1018" stroke-width="1.0"/>
<line x1="587.00" y1="505.94" x2="587.00" y2="508.54" stroke="#de1018" stroke-width="1.0"/>
<line x1="588.20" y1="508.43" x2="590.80" y2="508.43" stroke="#de1018" stroke-width="1.0"/>
<line x1="589.50" y1="507.13" x2="589.50" y2="509.73" stroke="#de1018" stroke-width="1.0"/>
<line x1="590.70" y1="509.44" x2="593.30" y2="509.44" stroke="#de1018" stroke-width="1.0"/>
<line x1="592.00" y1="508.14" x2="592.00" y2="510.74" stroke="#de1018" stroke-width="1.0"/>
<line x1="593.20" y1="510.77" x2="595.80" y2="510.77" stroke="#de1018" stroke-width="1.0"/>
<line x1="594.50" y1="509.47" x2="594.50" y2="512.07" stroke="#de1018" stroke-width="1.0"/>
<line x1="595.70" y1="512.53" x2="598.30" y2="512.53" stroke="#de1018" stroke-width="1.0"/>
<line x1="597.00" y1="511.23" x2="597.00" y2="513.83" stroke="#de1018" stroke-width="1.0"/>
<line x1="598.20" y1="514.28" x2="600.80" y2="514.28" stroke="#de1018" stroke-width="1.0"/>
<line x1="599.50" y1="512.98" x2="599.50" y2="515.58" stroke="#de1018" stroke-width="1.0"/>
<line x1="600.70" y1="516.04" x2="603.30" y2="516.04" stroke="#de1018" stroke-width="1.0"/>
<line x1="602.00" y1="514.74" x2="602.00" y2="517.34" stroke="#de1018" stroke-width="1.0"/>
<line x1="603.20" y1="517.79" x2="605.80" y2="517.79" stroke="#de1018" stroke-width="1.0"/>
<line x1="604.50" y1="516.49" x2="604.50" y2="519.09" stroke="#de1018" stroke-width="1.0"/>
<line x1="608.50" y1="520.20" x2="611.50" y2="520.20" stroke="#f03030" stroke-width="0.9"/>
<line x1="610.00" y1="518.70" x2="610.00" y2="521.70" stroke="#f03030" stroke-width="0.9"/>
<line x1="613.00" y1="520.20" x2="616.00" y2="520.20" stroke="#f03030" stroke-width="0.9"/>
<line x1="614.50" y1="518.70" x2="614.50" y2="521.70" stroke="#f03030" stroke-width="0.9"/>
<line x1="619.00" y1="520.20" x2="622.00" y2="520.20" stroke="#f03030" stroke-width="0.9"/>
<line x1="620.50" y1="518.70" x2="620.50" y2="521.70" stroke="#f03030" stroke-width="0.9"/>
<line x1="623.50" y1="520.20" x2="626.50" y2="520.20" stroke="#f03030" stroke-width="0.9"/>
<line x1="625.00" y1="518.70" x2="625.00" y2="521.70" stroke="#f03030" stroke-width="0.9"/>
<line x1="639.50" y1="520.20" x2="642.50" y2="520.20" stroke="#f03030" stroke-width="0.9"/>
<line x1="641.00" y1="518.70" x2="641.00" y2="521.70" stroke="#f03030" stroke-width="0.9"/>
<line x1="676.50" y1="520.20" x2="679.50" y2="520.20" stroke="#f03030" stroke-width="0.9"/>
<line x1="678.00" y1="518.70" x2="678.00" y2="521.70" stroke="#f03030" stroke-width="0.9"/>
<polyline points="521.10,427.70 522.80,431.60 525.00,437.30 527.20,443.00 529.40,449.10 531.50,454.80 534.60,458.70 537.70,462.20 540.30,465.70 542.30,472.50 545.70,477.00 550.20,482.20 554.80,484.40 559.30,486.70 562.70,490.70 567.30,496.40 573.00,499.80 577.50,502.60 583.20,506.00 590.00,510.00 596.80,513.40 599.90,514.50 604.50,518.30" fill="none" stroke="#222" stroke-width="1.3" stroke-linejoin="round" stroke-linecap="butt"/>
<polyline points="604.50,518.30 638.20,518.30 639.00,522.20 670.30,522.20 670.30,548.40" fill="none" stroke="#555" stroke-width="1.0" stroke-linejoin="round" stroke-linecap="butt"/>
<line x1="550.70" y1="483.06" x2="553.30" y2="483.06" stroke="#333" stroke-width="0.9"/>
<line x1="552.00" y1="481.76" x2="552.00" y2="484.36" stroke="#333" stroke-width="0.9"/>
<line x1="554.70" y1="485.01" x2="557.30" y2="485.01" stroke="#333" stroke-width="0.9"/>
<line x1="556.00" y1="483.71" x2="556.00" y2="486.31" stroke="#333" stroke-width="0.9"/>
<line x1="558.70" y1="487.52" x2="561.30" y2="487.52" stroke="#333" stroke-width="0.9"/>
<line x1="560.00" y1="486.22" x2="560.00" y2="488.82" stroke="#333" stroke-width="0.9"/>
<line x1="562.70" y1="492.31" x2="565.30" y2="492.31" stroke="#333" stroke-width="0.9"/>
<line x1="564.00" y1="491.01" x2="564.00" y2="493.61" stroke="#333" stroke-width="0.9"/>
<line x1="567.70" y1="497.41" x2="570.30" y2="497.41" stroke="#333" stroke-width="0.9"/>
<line x1="569.00" y1="496.11" x2="569.00" y2="498.71" stroke="#333" stroke-width="0.9"/>
<line x1="572.70" y1="500.42" x2="575.30" y2="500.42" stroke="#333" stroke-width="0.9"/>
<line x1="574.00" y1="499.12" x2="574.00" y2="501.72" stroke="#333" stroke-width="0.9"/>
<line x1="576.70" y1="502.90" x2="579.30" y2="502.90" stroke="#333" stroke-width="0.9"/>
<line x1="578.00" y1="501.60" x2="578.00" y2="504.20" stroke="#333" stroke-width="0.9"/>
<line x1="581.70" y1="505.88" x2="584.30" y2="505.88" stroke="#333" stroke-width="0.9"/>
<line x1="583.00" y1="504.58" x2="583.00" y2="507.18" stroke="#333" stroke-width="0.9"/>
<line x1="585.70" y1="508.24" x2="588.30" y2="508.24" stroke="#333" stroke-width="0.9"/>
<line x1="587.00" y1="506.94" x2="587.00" y2="509.54" stroke="#333" stroke-width="0.9"/>
<line x1="589.70" y1="510.50" x2="592.30" y2="510.50" stroke="#333" stroke-width="0.9"/>
<line x1="591.00" y1="509.20" x2="591.00" y2="511.80" stroke="#333" stroke-width="0.9"/>
<line x1="594.70" y1="513.00" x2="597.30" y2="513.00" stroke="#333" stroke-width="0.9"/>
<line x1="596.00" y1="511.70" x2="596.00" y2="514.30" stroke="#333" stroke-width="0.9"/>
<line x1="598.70" y1="514.58" x2="601.30" y2="514.58" stroke="#333" stroke-width="0.9"/>
<line x1="600.00" y1="513.28" x2="600.00" y2="515.88" stroke="#333" stroke-width="0.9"/>
<line x1="601.70" y1="517.06" x2="604.30" y2="517.06" stroke="#333" stroke-width="0.9"/>
<line x1="603.00" y1="515.76" x2="603.00" y2="518.36" stroke="#333" stroke-width="0.9"/>
<line x1="564.60" y1="495.10" x2="567.40" y2="495.10" stroke="#de1018" stroke-width="1.0"/>
<line x1="566.00" y1="493.70" x2="566.00" y2="496.50" stroke="#de1018" stroke-width="1.0"/>
<line x1="570.60" y1="499.65" x2="573.40" y2="499.65" stroke="#de1018" stroke-width="1.0"/>
<line x1="572.00" y1="498.25" x2="572.00" y2="501.05" stroke="#de1018" stroke-width="1.0"/>
<line x1="578.60" y1="502.90" x2="581.40" y2="502.90" stroke="#de1018" stroke-width="1.0"/>
<line x1="580.00" y1="501.50" x2="580.00" y2="504.30" stroke="#de1018" stroke-width="1.0"/>
<line x1="583.60" y1="505.91" x2="586.40" y2="505.91" stroke="#de1018" stroke-width="1.0"/>
<line x1="585.00" y1="504.51" x2="585.00" y2="507.31" stroke="#de1018" stroke-width="1.0"/>
<line x1="592.60" y1="510.42" x2="595.40" y2="510.42" stroke="#de1018" stroke-width="1.0"/>
<line x1="594.00" y1="509.02" x2="594.00" y2="511.82" stroke="#de1018" stroke-width="1.0"/>
<line x1="596.60" y1="513.23" x2="599.40" y2="513.23" stroke="#de1018" stroke-width="1.0"/>
<line x1="598.00" y1="511.83" x2="598.00" y2="514.63" stroke="#de1018" stroke-width="1.0"/>
<line x1="607.00" y1="518.30" x2="610.00" y2="518.30" stroke="#555" stroke-width="0.9"/>
<line x1="608.50" y1="516.80" x2="608.50" y2="519.80" stroke="#555" stroke-width="0.9"/>
<line x1="609.50" y1="518.30" x2="612.50" y2="518.30" stroke="#555" stroke-width="0.9"/>
<line x1="611.00" y1="516.80" x2="611.00" y2="519.80" stroke="#555" stroke-width="0.9"/>
<line x1="613.50" y1="518.30" x2="616.50" y2="518.30" stroke="#555" stroke-width="0.9"/>
<line x1="615.00" y1="516.80" x2="615.00" y2="519.80" stroke="#555" stroke-width="0.9"/>
<line x1="620.50" y1="518.30" x2="623.50" y2="518.30" stroke="#555" stroke-width="0.9"/>
<line x1="622.00" y1="516.80" x2="622.00" y2="519.80" stroke="#555" stroke-width="0.9"/>
<line x1="625.50" y1="518.30" x2="628.50" y2="518.30" stroke="#555" stroke-width="0.9"/>
<line x1="627.00" y1="516.80" x2="627.00" y2="519.80" stroke="#555" stroke-width="0.9"/>
<line x1="629.50" y1="518.30" x2="632.50" y2="518.30" stroke="#555" stroke-width="0.9"/>
<line x1="631.00" y1="516.80" x2="631.00" y2="519.80" stroke="#555" stroke-width="0.9"/>
<line x1="635.50" y1="518.30" x2="638.50" y2="518.30" stroke="#555" stroke-width="0.9"/>
<line x1="637.00" y1="516.80" x2="637.00" y2="519.80" stroke="#555" stroke-width="0.9"/>
<line x1="639.50" y1="522.20" x2="642.50" y2="522.20" stroke="#555" stroke-width="0.9"/>
<line x1="641.00" y1="520.70" x2="641.00" y2="523.70" stroke="#555" stroke-width="0.9"/>
<line x1="641.50" y1="522.20" x2="644.50" y2="522.20" stroke="#555" stroke-width="0.9"/>
<line x1="643.00" y1="520.70" x2="643.00" y2="523.70" stroke="#555" stroke-width="0.9"/>
<line x1="651.50" y1="522.20" x2="654.50" y2="522.20" stroke="#555" stroke-width="0.9"/>
<line x1="653.00" y1="520.70" x2="653.00" y2="523.70" stroke="#555" stroke-width="0.9"/>
<line x1="662.50" y1="522.20" x2="665.50" y2="522.20" stroke="#555" stroke-width="0.9"/>
<line x1="664.00" y1="520.70" x2="664.00" y2="523.70" stroke="#555" stroke-width="0.9"/>
<circle cx="521.10" cy="427.70" r="1.6" fill="#111"/>
<circle cx="525.00" cy="437.30" r="1.6" fill="#111"/>
<circle cx="531.80" cy="455.00" r="1.6" fill="#111"/>
<circle cx="540.00" cy="465.40" r="1.6" fill="#111"/>
<circle cx="548.00" cy="480.50" r="1.6" fill="#111"/>
<circle cx="565.00" cy="493.50" r="1.6" fill="#111"/>
<line x1="522.60" y1="533.50" x2="522.60" y2="536.50" stroke="#999" stroke-width="0.8"/>
<line x1="539.50" y1="549.60" x2="544.50" y2="549.60" stroke="#777" stroke-width="0.8"/>
</svg>
</body></html>
